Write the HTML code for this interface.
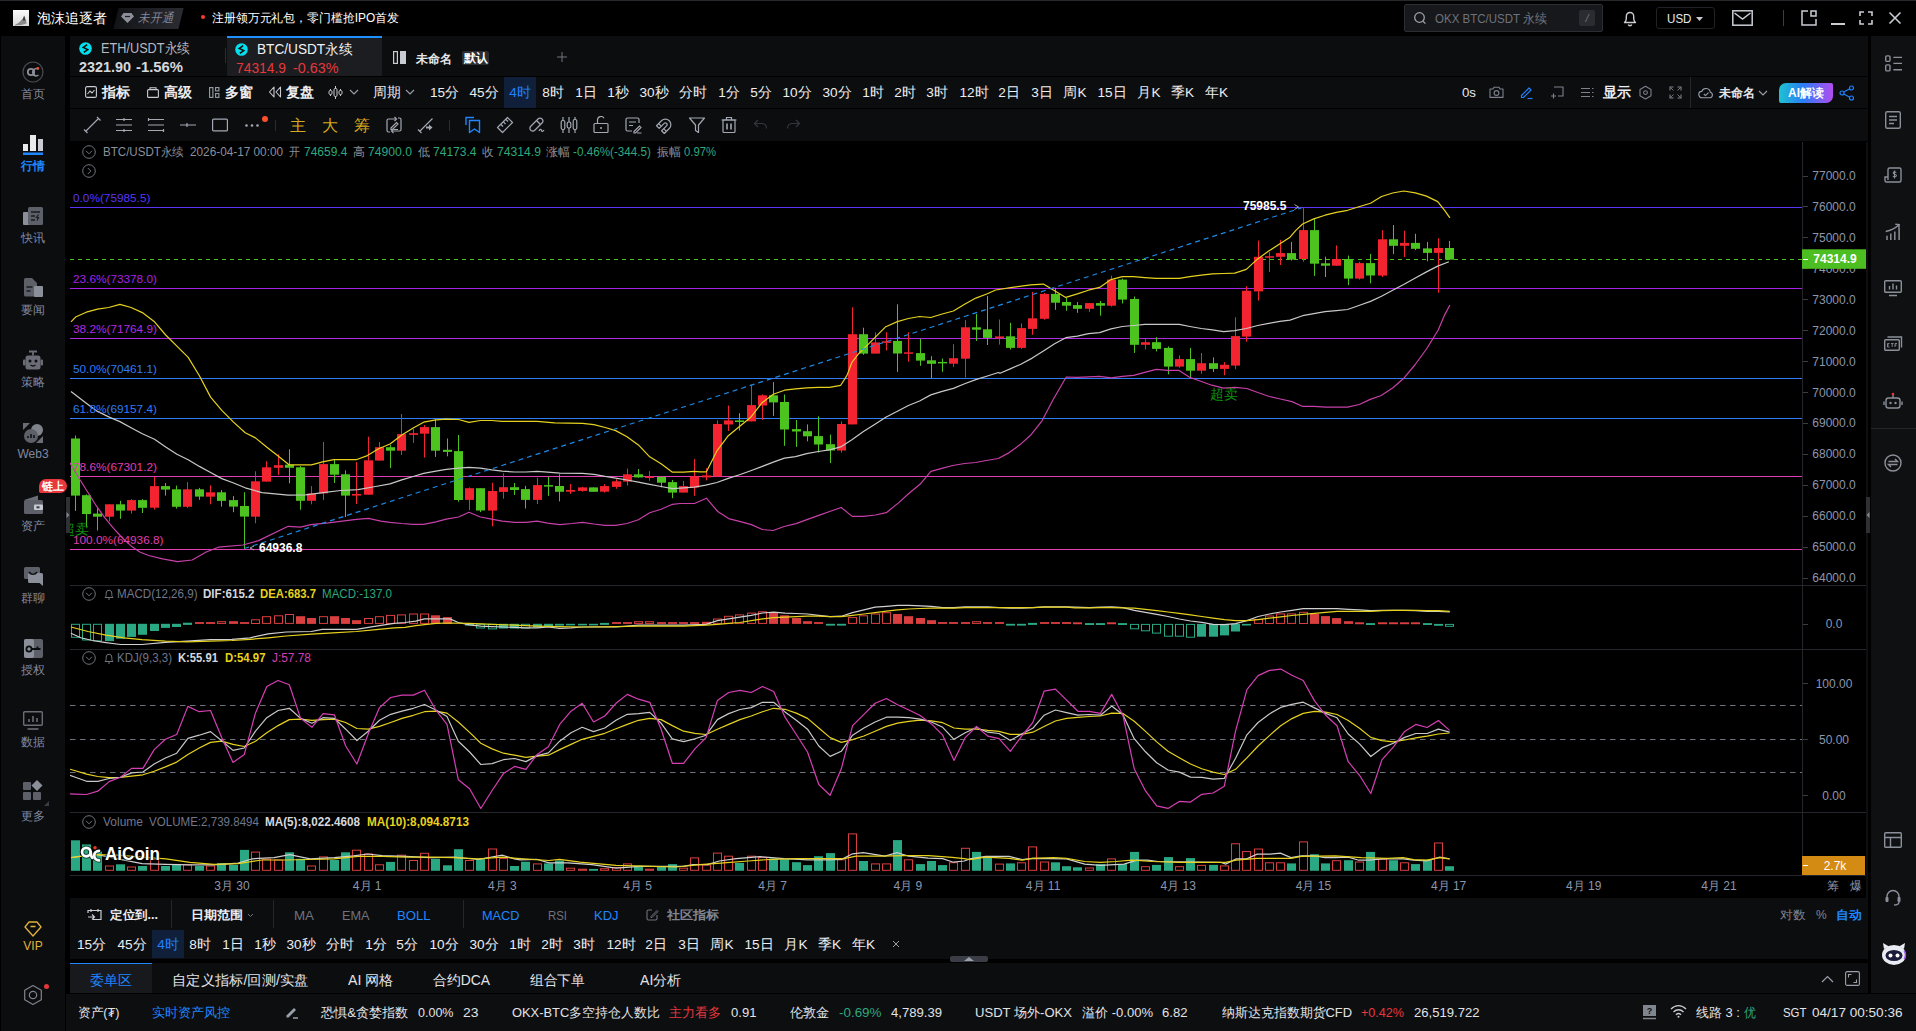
<!DOCTYPE html>
<html><head><meta charset="utf-8"><title>chart</title>
<style>
html,body{margin:0;padding:0;background:#000;}
body{width:1916px;height:1031px;position:relative;overflow:hidden;font-family:"Liberation Sans",sans-serif;}
.t{position:absolute;white-space:nowrap;display:block;}
.b{position:absolute;display:block;}
svg text{font-family:"Liberation Sans",sans-serif;}
</style></head><body>
<div class="b" style="left:0px;top:0px;width:1916px;height:36px;background:#000;"></div>
<div class="b" style="left:0px;top:0px;width:1916px;height:1px;background:#26282c;"></div>
<svg class="b" style="left:13px;top:10px" width="16" height="16" viewBox="0 0 16 16" fill="none"><defs><linearGradient id="av" x1="0" y1="0" x2="0" y2="1"><stop offset="0" stop-color="#fbfbfb"/><stop offset="1" stop-color="#d9d9d9"/></linearGradient></defs><rect width="16" height="16" fill="url(#av)"/><path d="M1 15.500c3-1.500 5-3 7-5l2.200-2.500 1-2.300.8 2.300 1 2.200.6 3.300c-3 1-7 2-12.600 2z" fill="#6f6f6f" fill-opacity="0.75"/><path d="M10.200 8l1-2.300.8 2.300.3 2.500h-2.600z" fill="#2c2c2c" fill-opacity="0.8"/></svg>
<span class="t" style="left:37px;top:9px;font-size:14px;line-height:18px;color:#fff;transform-origin:0 50%;transform:scaleX(1.000);">泡沫追逐者</span>
<div class="b" style="left:115.500px;top:7.500px;width:65px;height:21px;background:linear-gradient(90deg,#131417,#2a2b31);transform:skewX(-14deg)"></div>
<svg class="b" style="left:121px;top:12px" width="13" height="12" viewBox="0 0 13 12" fill="none"><path d="M2.5 1h8l2.5 3.5L6.5 11 0 4.5z" fill="#8b8f99"/><path d="M4 4.5h5" stroke="#1b1d21" stroke-width="1.2"/></svg>
<span class="t" style="left:138px;top:10px;font-size:12.5px;line-height:16px;color:#858a9c;transform-origin:0 50%;transform:scaleX(0.910);font-style:italic;">未开通</span>
<div class="b" style="left:201px;top:15px;width:4px;height:4px;background:#ff3b30;border-radius:50%;"></div>
<span class="t" style="left:212px;top:10px;font-size:12px;line-height:16px;color:#fff;transform-origin:0 50%;transform:scaleX(0.991);">注册领万元礼包，零门槛抢IPO首发</span>
<div class="b" style="left:1404px;top:4px;width:199px;height:28px;background:#17181b;border:1px solid #2b2d32;box-sizing:border-box;border-radius:2px;"></div>
<svg class="b" style="left:1413px;top:11px" width="14" height="14" viewBox="0 0 14 14" fill="none"><circle cx="6.5" cy="6.5" r="4.8" stroke="#9aa0aa" stroke-width="1.3"/><path d="M10 10.2l2.4 2.4" stroke="#9aa0aa" stroke-width="1.3"/></svg>
<span class="t" style="left:1435px;top:11px;font-size:12.5px;line-height:16px;color:#6e737d;transform-origin:0 50%;transform:scaleX(0.921);">OKX BTC/USDT 永续</span>
<div class="b" style="left:1579px;top:10px;width:16px;height:16px;background:#2a2c31;border-radius:2px;"></div>
<span class="t" style="left:1579px;top:11px;font-size:11px;line-height:14px;color:#6e737d;width:16px;text-align:center;font-style:italic;">/</span>
<svg class="b" style="left:1620px;top:8px" width="20" height="20" viewBox="0 0 20 20" fill="none"><path d="M4.5 14.5h11c-1.3-1-1.8-2.2-1.8-4V8.2a3.7 3.7 0 0 0-7.4 0v2.3c0 1.8-.5 3-1.8 4z" stroke="#c9ccd2" stroke-width="1.4" stroke-linejoin="round"/><path d="M8.3 16.6a1.8 1.8 0 0 0 3.4 0" stroke="#c9ccd2" stroke-width="1.4"/></svg>
<div class="b" style="left:1656px;top:7px;width:59px;height:22px;background:#000;border:1px solid #202226;box-sizing:border-box;border-radius:3px;"></div>
<span class="t" style="left:1667px;top:10.5px;font-size:12px;line-height:16px;color:#e6e8ec;transform-origin:0 50%;transform:scaleX(0.967);">USD</span>
<svg class="b" style="left:1695px;top:16px" width="10" height="6" viewBox="0 0 10 6" fill="none"><path d="M1 1h7L4.5 5z" fill="#c9ccd2"/></svg>
<svg class="b" style="left:1732px;top:10px" width="21" height="16" viewBox="0 0 21 16" fill="none"><rect x="0.8" y="0.8" width="19.4" height="14.4" stroke="#c9ccd2" stroke-width="1.5"/><path d="M2.5 3l8 6 8-6" stroke="#c9ccd2" stroke-width="1.5"/></svg>
<div class="b" style="left:1783px;top:10px;width:1px;height:16px;background:#3a3d44;"></div>
<svg class="b" style="left:1801px;top:10px" width="16" height="16" viewBox="0 0 16 16" fill="none"><path d="M7 1H1v14h14V9" stroke="#c9ccd2" stroke-width="1.5"/><rect x="10" y="1" width="5" height="5" stroke="#c9ccd2" stroke-width="1.5"/></svg>
<div class="b" style="left:1831px;top:23px;width:14px;height:1.5px;background:#c9ccd2;"></div>
<svg class="b" style="left:1859px;top:11px" width="14" height="14" viewBox="0 0 14 14" fill="none"><path d="M1 5V1h4M9 1h4v4M13 9v4H9M5 13H1V9" stroke="#c9ccd2" stroke-width="1.6"/></svg>
<svg class="b" style="left:1888px;top:11px" width="14" height="14" viewBox="0 0 14 14" fill="none"><path d="M1.5 1.5l11 11M12.5 1.5l-11 11" stroke="#c9ccd2" stroke-width="1.6"/></svg>
<div class="b" style="left:1px;top:36px;width:64px;height:995px;background:#0c0d0f;"></div>
<svg class="b" style="left:22px;top:61.3px" width="22" height="22" viewBox="0 0 22 22" fill="none"><circle cx="11" cy="11" r="10" stroke="#4a4d55" stroke-width="1.200"/><circle cx="9" cy="11" r="3.200" stroke="#8b8f99" stroke-width="1.800"/><path d="M12.500 14.500l-1.500-1.500" stroke="#8b8f99" stroke-width="1.800"/><path d="M16.500 8.500a3.500 3.500 0 1 0 0 5.500" stroke="#8b8f99" stroke-width="1.500"/><circle cx="15.800" cy="7.200" r="1.300" fill="#ff4d2e"/></svg>
<span class="t" style="left:3px;top:86.2px;font-size:11.6px;line-height:15px;color:#8088a0;width:60px;text-align:center;">首页</span>
<svg class="b" style="left:23px;top:134px" width="20" height="22" viewBox="0 0 20 22" fill="none"><rect x="0" y="10" width="5" height="7" fill="#e8eaee"/><rect x="7" y="1" width="6" height="16" fill="#e8eaee"/><rect x="15" y="5" width="5" height="12" fill="#c8cbd2"/><rect x="0" y="18.500" width="20" height="2.500" fill="#1e86ff"/></svg>
<span class="t" style="left:3px;top:158.2px;font-size:11.6px;line-height:15px;color:#1e86ff;font-weight:bold;width:60px;text-align:center;">行情</span>
<svg class="b" style="left:22px;top:206px" width="22" height="20" viewBox="0 0 22 20" fill="none"><rect x="1" y="6" width="9" height="13" rx="1" fill="#8b8f99"/><rect x="6" y="1" width="15" height="18" rx="1.500" fill="#5d6068"/><path d="M9 6h9M9 10h4M9 14h4" stroke="#1a1b1e" stroke-width="1.600"/><path d="M16.500 8.500l-2 3h2l-1.500 3" stroke="#1a1b1e" stroke-width="1.200"/></svg>
<span class="t" style="left:3px;top:230.2px;font-size:11.6px;line-height:15px;color:#8088a0;width:60px;text-align:center;">快讯</span>
<svg class="b" style="left:23px;top:277px" width="21" height="21" viewBox="0 0 21 21" fill="none"><path d="M1 2.500A1.500 1.500 0 0 1 2.500 1H9l5 5v13.500H2.500A1.500 1.500 0 0 1 1 18z" fill="#5d6068"/><rect x="11" y="9" width="9" height="11" rx="1" fill="#8b8f99"/><path d="M3.500 10h6M3.500 14h4" stroke="#1a1b1e" stroke-width="1.600"/></svg>
<span class="t" style="left:3px;top:302.2px;font-size:11.6px;line-height:15px;color:#8088a0;width:60px;text-align:center;">要闻</span>
<svg class="b" style="left:22px;top:350px" width="22" height="21" viewBox="0 0 22 21" fill="none"><path d="M7 1.500h8M11 1.500v4" stroke="#6a6d75" stroke-width="1.800"/><rect x="3.500" y="5.500" width="15" height="14" rx="2.500" fill="#6a6d75"/><rect x="1" y="9.500" width="2.500" height="6" rx="1" fill="#6a6d75"/><rect x="18.500" y="9.500" width="2.500" height="6" rx="1" fill="#6a6d75"/><circle cx="8" cy="11" r="1.500" fill="#0c0d0f"/><circle cx="14" cy="11" r="1.500" fill="#0c0d0f"/><path d="M8.500 15c1.500 1.200 3.500 1.200 5 0" stroke="#0c0d0f" stroke-width="1.300"/></svg>
<span class="t" style="left:3px;top:374.2px;font-size:11.6px;line-height:15px;color:#8088a0;width:60px;text-align:center;">策略</span>
<svg class="b" style="left:22px;top:422px" width="22" height="22" viewBox="0 0 22 22" fill="none"><path d="M1 1h7L1 8zM21 21h-7l7-7z" fill="#6a6d75"/><circle cx="15" cy="8" r="6" fill="#80838b"/><circle cx="9" cy="14" r="7" fill="#5d6068"/><path d="M6 16v-2M9 16v-4M12 16v-3" stroke="#0c0d0f" stroke-width="1.500"/></svg>
<span class="t" style="left:3px;top:445.7px;font-size:12px;line-height:16px;color:#8088a0;width:60px;text-align:center;">Web3</span>
<svg class="b" style="left:23px;top:494px" width="21" height="21" viewBox="0 0 21 21" fill="none"><path d="M1 6l14-4.500V6" fill="#6a6d75"/><rect x="1" y="6" width="19" height="14" rx="1.500" fill="#5d6068"/><rect x="11" y="10.500" width="9" height="5.500" rx="1" fill="#c8cbd2"/><rect x="13.500" y="12.300" width="3" height="2" fill="#3a3d44"/></svg>
<span class="t" style="left:3px;top:518.2px;font-size:11.6px;line-height:15px;color:#8088a0;width:60px;text-align:center;">资产</span>
<div class="b" style="left:39px;top:479px;width:28px;height:14px;background:#e8383d;border-radius:8px 8px 8px 2px;"></div>
<span class="t" style="left:39px;top:479px;font-size:10.5px;line-height:14px;color:#fff;font-weight:bold;width:28px;text-align:center;">链上</span>
<svg class="b" style="left:23px;top:566px" width="21" height="21" viewBox="0 0 21 21" fill="none"><path d="M1 2.500A1.500 1.500 0 0 1 2.500 1h13A1.500 1.500 0 0 1 17 2.500v9a1.500 1.500 0 0 1-1.500 1.500H2.500A1.500 1.500 0 0 1 1 11.500z" fill="#5d6068"/><path d="M5 8.500A1.500 1.500 0 0 1 6.500 7h12A1.500 1.500 0 0 1 20 8.500V20l-3.500-3h-10A1.500 1.500 0 0 1 5 15.500z" fill="#8b8f99"/><path d="M6 6c2 3 6 3 8 0" stroke="#0c0d0f" stroke-width="1.500"/></svg>
<span class="t" style="left:3px;top:590.2px;font-size:11.6px;line-height:15px;color:#8088a0;width:60px;text-align:center;">群聊</span>
<svg class="b" style="left:23px;top:638px" width="21" height="21" viewBox="0 0 21 21" fill="none"><rect x="1" y="1" width="19" height="19" rx="2" fill="#5d6068"/><rect x="1" y="1" width="10" height="19" rx="2" fill="#8b8f99"/><circle cx="6" cy="11" r="2.600" stroke="#0c0d0f" stroke-width="1.800"/><path d="M8.500 11h9M14.500 11v-2.500" stroke="#0c0d0f" stroke-width="1.800"/></svg>
<span class="t" style="left:3px;top:662.2px;font-size:11.6px;line-height:15px;color:#8088a0;width:60px;text-align:center;">授权</span>
<svg class="b" style="left:22px;top:710px" width="22" height="21" viewBox="0 0 22 21" fill="none"><rect x="1.700" y="1.700" width="18.600" height="13.600" rx="1" stroke="#6a6d75" stroke-width="1.400"/><path d="M7 12V9M11 12V6M15 12V8" stroke="#6a6d75" stroke-width="1.600"/><path d="M5.500 19h11" stroke="#6a6d75" stroke-width="1.600"/></svg>
<span class="t" style="left:3px;top:734.2px;font-size:11.6px;line-height:15px;color:#8088a0;width:60px;text-align:center;">数据</span>
<svg class="b" style="left:22px;top:780px" width="28" height="26" viewBox="0 0 28 26" fill="none"><rect x="1" y="2" width="8" height="8" rx="1" fill="#5d6068"/><rect x="1" y="12" width="8" height="8" rx="1" fill="#5d6068"/><rect x="11" y="12" width="8" height="8" rx="1" fill="#5d6068"/><path d="M15 0l5.500 5.500L15 11 9.500 5.500z" fill="#8b8f99"/><path d="M27 21v5h-5z" fill="#3a3d44"/></svg>
<span class="t" style="left:3px;top:808.2px;font-size:11.6px;line-height:15px;color:#8088a0;width:60px;text-align:center;">更多</span>
<svg class="b" style="left:24px;top:921px" width="18" height="16" viewBox="0 0 18 16" fill="none"><path d="M5 1h8l4 5-8 9-8-9z" stroke="#e0b23c" stroke-width="1.300" stroke-linejoin="round"/><path d="M6.500 5.500h5" stroke="#e0b23c" stroke-width="1.500"/></svg>
<span class="t" style="left:3px;top:937.7px;font-size:12px;line-height:16px;color:#e0b23c;width:60px;text-align:center;">VIP</span>
<svg class="b" style="left:22.8px;top:983.9px" width="20" height="22" viewBox="0 0 20 22" fill="none"><path d="M10 1.500l8.300 4.750v9.500L10 20.500l-8.300-4.750v-9.500z" stroke="#80838d" stroke-width="1.200" stroke-linejoin="round"/><circle cx="10" cy="11" r="3.700" stroke="#80838d" stroke-width="1.200"/></svg>
<div class="b" style="left:44px;top:984px;width:5.2px;height:5.2px;background:#e0383d;border-radius:50%;"></div>
<div class="b" style="left:66px;top:497px;width:4px;height:36px;background:#2e3036;"></div>
<svg class="b" style="left:66px;top:511px" width="4" height="8" viewBox="0 0 4 8" fill="none"><path d="M0.500 1l3 3-3 3z" fill="#80838b"/></svg>
<div class="b" style="left:70px;top:36px;width:1798px;height:40px;background:#0c0d0f;"></div>
<svg class="b" style="left:78.5px;top:41.5px" width="13" height="13" viewBox="0 0 13 13" fill="none"><circle cx="6.5" cy="6.5" r="6.3" fill="#00e0ee"/><path d="M8.2 2.6L4.3 5.4l4.4 2.2-3.9 2.8" stroke="#1a0a0a" stroke-width="1.6" fill="none"/></svg>
<span class="t" style="left:101px;top:39px;font-size:14px;line-height:18px;color:#b5b9c1;transform-origin:0 50%;transform:scaleX(0.908);">ETH/USDT永续</span>
<span class="t" style="left:79px;top:58px;font-size:14px;line-height:18px;color:#d5d8dd;font-weight:bold;transform-origin:0 50%;transform:scaleX(1.027);">2321.90</span>
<span class="t" style="left:136px;top:58px;font-size:14px;line-height:18px;color:#d5d8dd;font-weight:bold;transform-origin:0 50%;transform:scaleX(1.060);">-1.56%</span>
<div class="b" style="left:225px;top:48px;width:1px;height:15px;background:#2a2c31;"></div>
<div class="b" style="left:227px;top:36px;width:155px;height:40px;background:#1b1d21;"></div>
<div class="b" style="left:227px;top:36px;width:155px;height:2px;background:#1e90ff;"></div>
<svg class="b" style="left:234.5px;top:42.5px" width="13" height="13" viewBox="0 0 13 13" fill="none"><circle cx="6.5" cy="6.5" r="6.3" fill="#00e0ee"/><path d="M8.2 2.6L4.3 5.4l4.4 2.2-3.9 2.8" stroke="#1a0a0a" stroke-width="1.6" fill="none"/></svg>
<span class="t" style="left:257px;top:40px;font-size:14px;line-height:18px;color:#f2f3f5;transform-origin:0 50%;transform:scaleX(0.974);">BTC/USDT永续</span>
<span class="t" style="left:236px;top:58.7px;font-size:14px;line-height:18px;color:#e5383b;transform-origin:0 50%;transform:scaleX(0.988);">74314.9</span>
<span class="t" style="left:293px;top:58.7px;font-size:14px;line-height:18px;color:#e5383b;transform-origin:0 50%;transform:scaleX(1.026);">-0.63%</span>
<svg class="b" style="left:393px;top:51px" width="13" height="13" viewBox="0 0 13 13" fill="none"><rect x="0.6" y="0.6" width="3.8" height="11.8" stroke="#c9ccd2" stroke-width="1.2"/><rect x="7" y="0" width="6" height="13" fill="#c9ccd2"/></svg>
<span class="t" style="left:416px;top:50.5px;font-size:12px;line-height:16px;color:#e6e8ec;font-weight:bold;transform-origin:0 50%;transform:scaleX(1.000);">未命名</span>
<div class="b" style="left:462px;top:51px;width:27px;height:14px;background:#2b2d32;border-radius:2px;"></div>
<span class="t" style="left:462px;top:51px;font-size:11.5px;line-height:15px;color:#fff;font-weight:bold;width:27px;text-align:center;">默认</span>
<svg class="b" style="left:557px;top:52px" width="10" height="10" viewBox="0 0 10 10" fill="none"><path d="M5 0v10M0 5h10" stroke="#70747d" stroke-width="1"/></svg>
<div class="b" style="left:70px;top:77px;width:1798px;height:31px;background:#0c0d0f;"></div>
<svg class="b" style="left:85px;top:86px" width="12" height="12" viewBox="0 0 12 12" fill="none"><rect x="0.6" y="0.6" width="10.8" height="10.8" rx="1.5" stroke="#c9ccd2" stroke-width="1.1"/><path d="M2.5 8l2.5-3 2 2 2.5-3" stroke="#c9ccd2" stroke-width="1.1"/></svg>
<span class="t" style="left:102px;top:83px;font-size:14px;line-height:18px;color:#eceef1;font-weight:bold;transform-origin:0 50%;transform:scaleX(1.000);">指标</span>
<svg class="b" style="left:147px;top:87px" width="12" height="11" viewBox="0 0 12 11" fill="none"><rect x="0.6" y="2.6" width="10.8" height="7.8" rx="1" stroke="#c9ccd2" stroke-width="1.1"/><path d="M3 2.6V.8h6v1.8" stroke="#c9ccd2" stroke-width="1.1"/></svg>
<span class="t" style="left:164px;top:83px;font-size:14px;line-height:18px;color:#eceef1;font-weight:bold;transform-origin:0 50%;transform:scaleX(1.000);">高级</span>
<svg class="b" style="left:209px;top:87px" width="11" height="11" viewBox="0 0 11 11" fill="none"><rect x="0.6" y="0.6" width="3.3" height="9.8" stroke="#9aa0aa" stroke-width="1.1"/><rect x="6.6" y="0.6" width="3.3" height="3.3" stroke="#9aa0aa" stroke-width="1.1"/><rect x="6.6" y="6.6" width="3.3" height="3.8" stroke="#9aa0aa" stroke-width="1.1"/></svg>
<span class="t" style="left:225px;top:83px;font-size:14px;line-height:18px;color:#eceef1;font-weight:bold;transform-origin:0 50%;transform:scaleX(1.000);">多窗</span>
<svg class="b" style="left:268px;top:86px" width="14" height="12" viewBox="0 0 14 12" fill="none"><path d="M6 1L1.5 6 6 11zM12.5 1L8 6l4.5 5z" stroke="#c9ccd2" stroke-width="1.1" stroke-linejoin="round"/></svg>
<span class="t" style="left:286px;top:83px;font-size:14px;line-height:18px;color:#eceef1;font-weight:bold;transform-origin:0 50%;transform:scaleX(1.000);">复盘</span>
<svg class="b" style="left:328px;top:85px" width="15" height="15" viewBox="0 0 15 15" fill="none"><path d="M2.5 4v7M7.5 1v13M12.5 4v7" stroke="#c9ccd2" stroke-width="1"/><rect x="1" y="5.5" width="3" height="4" rx="1.2" stroke="#c9ccd2" stroke-width="1" fill="#0c0d0f"/><rect x="6" y="3.5" width="3" height="8" rx="1.2" stroke="#c9ccd2" stroke-width="1" fill="#0c0d0f"/><rect x="11" y="5.5" width="3" height="4" rx="1.2" stroke="#c9ccd2" stroke-width="1" fill="#0c0d0f"/></svg>
<svg class="b" style="left:349px;top:89px" width="10" height="6" viewBox="0 0 10 6" fill="none"><path d="M1 1l4 4 4-4" stroke="#9aa0aa" stroke-width="1.1"/></svg>
<span class="t" style="left:373px;top:83px;font-size:14px;line-height:18px;color:#eceef1;transform-origin:0 50%;transform:scaleX(0.982);">周期</span>
<svg class="b" style="left:405px;top:89px" width="10" height="6" viewBox="0 0 10 6" fill="none"><path d="M1 1l4 4 4-4" stroke="#9aa0aa" stroke-width="1.1"/></svg>
<div class="b" style="left:504px;top:77px;width:32px;height:31px;background:#10203a;"></div>
<span class="t" style="left:428px;top:83.8px;font-size:13.6px;line-height:18px;color:#eceef1;width:33px;text-align:center;">15分</span>
<span class="t" style="left:467px;top:83.8px;font-size:13.6px;line-height:18px;color:#eceef1;width:34px;text-align:center;">45分</span>
<span class="t" style="left:507px;top:83.8px;font-size:13.6px;line-height:18px;color:#2080ff;width:26px;text-align:center;">4时</span>
<span class="t" style="left:540px;top:83.8px;font-size:13.6px;line-height:18px;color:#eceef1;width:26px;text-align:center;">8时</span>
<span class="t" style="left:573px;top:83.8px;font-size:13.6px;line-height:18px;color:#eceef1;width:26px;text-align:center;">1日</span>
<span class="t" style="left:605px;top:83.8px;font-size:13.6px;line-height:18px;color:#eceef1;width:26px;text-align:center;">1秒</span>
<span class="t" style="left:637px;top:83.8px;font-size:13.6px;line-height:18px;color:#eceef1;width:34px;text-align:center;">30秒</span>
<span class="t" style="left:677px;top:83.8px;font-size:13.6px;line-height:18px;color:#eceef1;width:32px;text-align:center;">分时</span>
<span class="t" style="left:716px;top:83.8px;font-size:13.6px;line-height:18px;color:#eceef1;width:26px;text-align:center;">1分</span>
<span class="t" style="left:748px;top:83.8px;font-size:13.6px;line-height:18px;color:#eceef1;width:26px;text-align:center;">5分</span>
<span class="t" style="left:780px;top:83.8px;font-size:13.6px;line-height:18px;color:#eceef1;width:34px;text-align:center;">10分</span>
<span class="t" style="left:820px;top:83.8px;font-size:13.6px;line-height:18px;color:#eceef1;width:34px;text-align:center;">30分</span>
<span class="t" style="left:860px;top:83.8px;font-size:13.6px;line-height:18px;color:#eceef1;width:26px;text-align:center;">1时</span>
<span class="t" style="left:892px;top:83.8px;font-size:13.6px;line-height:18px;color:#eceef1;width:26px;text-align:center;">2时</span>
<span class="t" style="left:924px;top:83.8px;font-size:13.6px;line-height:18px;color:#eceef1;width:26px;text-align:center;">3时</span>
<span class="t" style="left:957px;top:83.8px;font-size:13.6px;line-height:18px;color:#eceef1;width:34px;text-align:center;">12时</span>
<span class="t" style="left:996px;top:83.8px;font-size:13.6px;line-height:18px;color:#eceef1;width:26px;text-align:center;">2日</span>
<span class="t" style="left:1029px;top:83.8px;font-size:13.6px;line-height:18px;color:#eceef1;width:26px;text-align:center;">3日</span>
<span class="t" style="left:1061px;top:83.8px;font-size:13.6px;line-height:18px;color:#eceef1;width:28px;text-align:center;">周K</span>
<span class="t" style="left:1095px;top:83.8px;font-size:13.6px;line-height:18px;color:#eceef1;width:34px;text-align:center;">15日</span>
<span class="t" style="left:1135px;top:83.8px;font-size:13.6px;line-height:18px;color:#eceef1;width:28px;text-align:center;">月K</span>
<span class="t" style="left:1168px;top:83.8px;font-size:13.6px;line-height:18px;color:#eceef1;width:29px;text-align:center;">季K</span>
<span class="t" style="left:1202px;top:83.8px;font-size:13.6px;line-height:18px;color:#eceef1;width:29px;text-align:center;">年K</span>
<span class="t" style="left:1462px;top:83.5px;font-size:13px;line-height:17px;color:#e6e8ec;transform-origin:0 50%;transform:scaleX(1.019);">0s</span>
<svg class="b" style="left:1489px;top:86px" width="15" height="12" viewBox="0 0 15 12" fill="none"><path d="M1 3h3l1-1.8h5L11 3h3v8.4H1z" stroke="#7c818b" stroke-width="1.1" stroke-linejoin="round"/><circle cx="7.5" cy="7" r="2.4" stroke="#7c818b" stroke-width="1.1"/></svg>
<svg class="b" style="left:1519px;top:85px" width="15" height="15" viewBox="0 0 15 15" fill="none"><path d="M2.5 10.5L10 3l2 2-7.500 7.500H2.500z" stroke="#2080ff" stroke-width="1.2" stroke-linejoin="round"/><path d="M8.500 13.500h5" stroke="#2080ff" stroke-width="1.2"/></svg>
<svg class="b" style="left:1550px;top:86px" width="14" height="13" viewBox="0 0 14 13" fill="none"><path d="M4 1h9v9H8" stroke="#7c818b" stroke-width="1.1"/><path d="M1 10h5M3.5 7.500v5" stroke="#7c818b" stroke-width="1.1"/></svg>
<svg class="b" style="left:1581px;top:87px" width="13" height="11" viewBox="0 0 13 11" fill="none"><path d="M0 1.500h9M0 5.500h9M0 9.500h9" stroke="#7c818b" stroke-width="1.1"/><path d="M11 1.500h1.500M11 5.500h1.500M11 9.500h1.500" stroke="#7c818b" stroke-width="1.1"/></svg>
<span class="t" style="left:1603px;top:83px;font-size:14px;line-height:18px;color:#eceef1;font-weight:bold;transform-origin:0 50%;transform:scaleX(1.000);">显示</span>
<svg class="b" style="left:1638px;top:85px" width="15" height="15" viewBox="0 0 15 15" fill="none"><path d="M7.500 1.200l5.500 3.200v6.400l-5.500 3.200L2 10.800V4.400z" stroke="#7c818b" stroke-width="1.1" stroke-linejoin="round"/><circle cx="7.500" cy="7.600" r="1.900" stroke="#7c818b" stroke-width="1.1"/></svg>
<svg class="b" style="left:1669px;top:86px" width="13" height="13" viewBox="0 0 13 13" fill="none"><path d="M1 4.500V1h3.500M8.500 1H12v3.500M12 8.500V12H8.500M4.500 12H1V8.500" stroke="#7c818b" stroke-width="1.1"/><path d="M1.500 1.500l3 3M11.500 1.500l-3 3M11.500 11.500l-3-3M1.500 11.500l3-3" stroke="#7c818b" stroke-width="0.9"/></svg>
<div class="b" style="left:1690px;top:77px;width:1px;height:31px;background:#24262b;"></div>
<svg class="b" style="left:1698px;top:87px" width="16" height="12" viewBox="0 0 16 12" fill="none"><path d="M4.200 10.800a3.200 3.200 0 0 1-.4-6.400 4.400 4.400 0 0 1 8.500.9 2.800 2.800 0 0 1-.5 5.500z" stroke="#9aa0aa" stroke-width="1.100"/><path d="M5.800 7l1.700 1.600 3-3" stroke="#9aa0aa" stroke-width="1.100"/></svg>
<span class="t" style="left:1719px;top:85px;font-size:12px;line-height:16px;color:#e6e8ec;font-weight:bold;transform-origin:0 50%;transform:scaleX(1.000);">未命名</span>
<svg class="b" style="left:1758px;top:90px" width="10" height="6" viewBox="0 0 10 6" fill="none"><path d="M1 1l4 4 4-4" stroke="#9aa0aa" stroke-width="1.100"/></svg>
<div class="b" style="left:1779px;top:83px;width:54px;height:20px;background:linear-gradient(90deg,#1ec3d2 0%,#2a7cf6 45%,#b34df0 100%);border-radius:7px 2px 7px 2px"></div>
<span class="t" style="left:1779px;top:85px;font-size:12px;line-height:16px;color:#fff;font-weight:bold;width:54px;text-align:center;">AI解读</span>
<svg class="b" style="left:1839px;top:85px" width="16" height="16" viewBox="0 0 16 16" fill="none"><circle cx="3" cy="8" r="2" stroke="#2080ff" stroke-width="1.200"/><circle cx="12.500" cy="3" r="2" stroke="#2080ff" stroke-width="1.200"/><circle cx="12.500" cy="13" r="2" stroke="#2080ff" stroke-width="1.200"/><path d="M4.800 7l6-3.200M4.800 9l6 3.200" stroke="#2080ff" stroke-width="1.200"/></svg>
<div class="b" style="left:70px;top:109px;width:1798px;height:32px;background:#0c0d0f;"></div>
<svg class="b" style="left:83px;top:116px" width="18" height="18" viewBox="0 0 18 18" fill="none"><path d="M2.500 15.500L15.500 2.500M1 13.500l3.500 3.500M14 1l3.500 3.500" stroke="#a3a8b3" stroke-width="1.2"/></svg>
<svg class="b" style="left:115px;top:116px" width="18" height="18" viewBox="0 0 18 18" fill="none"><path d="M1 3.500h16M1 9h16M1 14.500h16" stroke="#a3a8b3" stroke-width="1.2"/><path d="M9 2v3M9 13v3" stroke="#a3a8b3" stroke-width="1.2"/></svg>
<svg class="b" style="left:147px;top:116px" width="18" height="18" viewBox="0 0 18 18" fill="none"><path d="M1 3.500h16M1 9h16M1 14.500h16" stroke="#a3a8b3" stroke-width="1.2"/><path d="M1.500 2v3M16.500 13v3" stroke="#a3a8b3" stroke-width="1.2"/></svg>
<svg class="b" style="left:179px;top:116px" width="18" height="18" viewBox="0 0 18 18" fill="none"><path d="M1 9h16M8 7v4" stroke="#a3a8b3" stroke-width="1.2"/></svg>
<svg class="b" style="left:211px;top:116px" width="18" height="18" viewBox="0 0 18 18" fill="none"><rect x="1.600" y="3.100" width="14.800" height="11.800" rx="1" stroke="#a3a8b3" stroke-width="1.2"/></svg>
<svg class="b" style="left:243px;top:116px" width="18" height="18" viewBox="0 0 18 18" fill="none"><circle cx="3.500" cy="9.500" r="1.300" fill="#a3a8b3"/><circle cx="9" cy="9.500" r="1.300" fill="#a3a8b3"/><circle cx="14.500" cy="9.500" r="1.300" fill="#a3a8b3"/></svg>
<div class="b" style="left:262px;top:116px;width:6px;height:6px;background:#ff4d2e;border-radius:50%;"></div>
<div class="b" style="left:275px;top:120px;width:1px;height:11px;background:#2a2c31;"></div>
<span class="t" style="left:289px;top:114.5px;font-size:16px;line-height:21px;color:#d8a81e;width:18px;text-align:center;">主</span>
<span class="t" style="left:321px;top:114.5px;font-size:16px;line-height:21px;color:#d8a81e;width:18px;text-align:center;">大</span>
<span class="t" style="left:353px;top:114.5px;font-size:16px;line-height:21px;color:#d8a81e;width:18px;text-align:center;">筹</span>
<svg class="b" style="left:385px;top:116px" width="18" height="18" viewBox="0 0 18 18" fill="none"><path d="M5 16H3.500A1.500 1.500 0 0 1 2 14.500v-10A1.500 1.500 0 0 1 3.500 3H11M13 2h1.500A1.500 1.500 0 0 1 16 3.500v10a1.500 1.500 0 0 1-1.500 1.500H7" stroke="#a3a8b3" stroke-width="1.2"/><path d="M9.500 1l2 2-2 2M8.500 17l-2-2 2-2" stroke="#a3a8b3" stroke-width="1.2"/><path d="M6 12l5.500-5.500 1.500 1.500L7.500 13.500H6zM9 13.500h4" stroke="#a3a8b3" stroke-width="1.2"/></svg>
<svg class="b" style="left:417px;top:116px" width="18" height="18" viewBox="0 0 18 18" fill="none"><path d="M2.500 15.500L15.500 2.500M1 13.500l3.500 3.500" stroke="#a3a8b3" stroke-width="1.2"/><path d="M9 10.500h3v-2l3.500 3-3.500 3v-2H9z" fill="#a3a8b3"/></svg>
<div class="b" style="left:449px;top:120px;width:1px;height:11px;background:#2a2c31;"></div>
<svg class="b" style="left:464px;top:116px" width="18" height="18" viewBox="0 0 18 18" fill="none"><path d="M5.500 4.500h10v12l-5-3.500-5 3.500z" stroke="#1e86ff" stroke-width="1.400" stroke-linejoin="round"/><path d="M2 9V1.500h8" stroke="#1e86ff" stroke-width="1.400"/></svg>
<svg class="b" style="left:496px;top:116px" width="18" height="18" viewBox="0 0 18 18" fill="none"><path d="M1.500 11.500L11.500 1.500l5 5L6.500 16.500z" stroke="#a3a8b3" stroke-width="1.2" stroke-linejoin="round"/><path d="M5 8.500l2 2M7.500 6l2 2M10 3.500l2 2" stroke="#a3a8b3" stroke-width="1.2"/></svg>
<svg class="b" style="left:528px;top:116px" width="18" height="18" viewBox="0 0 18 18" fill="none"><path d="M3 14.500c-1.500-1.500-1.500-3 0-4.500l7-7c1.200-1.200 2.800-1.200 4 0s1.200 2.800 0 4l-7 7c-1.500 1.500-2.500 1.500-4 .5z" stroke="#a3a8b3" stroke-width="1.2"/><path d="M8.500 4.500l4 4" stroke="#a3a8b3" stroke-width="1.2"/><path d="M11 15c1-2 2-2 2.500-.5s1.500 1 2.500-.5" stroke="#a3a8b3" stroke-width="1.2"/></svg>
<svg class="b" style="left:560px;top:116px" width="18" height="18" viewBox="0 0 18 18" fill="none"><path d="M3 1v16M9 1v16M15 1v16" stroke="#a3a8b3" stroke-width="1.2"/><rect x="1.200" y="4.500" width="3.600" height="9" rx="1.500" fill="#0c0d0f" stroke="#a3a8b3" stroke-width="1.2"/><rect x="7.200" y="6" width="3.600" height="6" rx="1.500" fill="#0c0d0f" stroke="#a3a8b3" stroke-width="1.2"/><rect x="13.200" y="3.500" width="3.600" height="10" rx="1.500" fill="#0c0d0f" stroke="#a3a8b3" stroke-width="1.2"/></svg>
<svg class="b" style="left:592px;top:116px" width="18" height="18" viewBox="0 0 18 18" fill="none"><rect x="2" y="7.500" width="14" height="9" rx="1" stroke="#a3a8b3" stroke-width="1.2"/><path d="M5.500 7.500V4a3.500 3.500 0 0 1 6.500-1.800" stroke="#a3a8b3" stroke-width="1.2"/><circle cx="9" cy="12" r="1" fill="#a3a8b3"/></svg>
<svg class="b" style="left:624px;top:116px" width="18" height="18" viewBox="0 0 18 18" fill="none"><path d="M15 7V3.500A1.500 1.500 0 0 0 13.500 2h-10A1.500 1.500 0 0 0 2 3.500v10A1.500 1.500 0 0 0 3.500 15H8" stroke="#a3a8b3" stroke-width="1.2"/><path d="M5 6h7M5 9.500h4" stroke="#a3a8b3" stroke-width="1.2"/><path d="M10 15.500l5.500-5.500 1.500 1.500-5.500 5.500H10zM13 17h4.500" stroke="#a3a8b3" stroke-width="1.2"/></svg>
<svg class="b" style="left:656px;top:116px" width="18" height="18" viewBox="0 0 18 18" fill="none"><g transform="rotate(225 9 9)"><path d="M3.500 2.500v7a5.500 5.500 0 0 0 11 0v-7h-3.800v7a1.700 1.700 0 0 1-3.400 0v-7z" stroke="#a3a8b3" stroke-width="1.2" stroke-linejoin="round"/><path d="M3.500 5.500h3.800M10.700 5.500h3.800" stroke="#a3a8b3" stroke-width="1.2"/></g></svg>
<svg class="b" style="left:688px;top:116px" width="18" height="18" viewBox="0 0 18 18" fill="none"><path d="M1.500 2h15l-6 7v7.500l-3-2V9z" stroke="#a3a8b3" stroke-width="1.2" stroke-linejoin="round"/></svg>
<svg class="b" style="left:720px;top:116px" width="18" height="18" viewBox="0 0 18 18" fill="none"><path d="M1.500 4h15M6.500 4V1.500h5V4" stroke="#a3a8b3" stroke-width="1.2"/><path d="M3 4h12v11.500a1 1 0 0 1-1 1H4a1 1 0 0 1-1-1z" stroke="#a3a8b3" stroke-width="1.2"/><path d="M7 7.500v6M11 7.500v6" stroke="#a3a8b3" stroke-width="1.600"/></svg>
<svg class="b" style="left:752px;top:116px" width="18" height="18" viewBox="0 0 18 18" fill="none"><path d="M6 4L2.500 7.500 6 11M2.500 7.500h7c3 0 5 2 5 5" stroke="#33363c" stroke-width="1.200"/></svg>
<svg class="b" style="left:784px;top:116px" width="18" height="18" viewBox="0 0 18 18" fill="none"><path d="M12 4l3.500 3.500L12 11M15.500 7.500h-7c-3 0-5 2-5 5" stroke="#33363c" stroke-width="1.200"/></svg>
<svg width="1797" height="755" viewBox="0 0 1797 755" style="position:absolute;left:70px;top:142px" shape-rendering="auto">
<rect x="0" y="0" width="1797" height="755" fill="#000"/>
<defs><clipPath id="cp"><rect x="0" y="0" width="1732" height="755"/></clipPath></defs>
<line x1="0" x2="1797" y1="443.5" y2="443.5" stroke="#24262b" stroke-width="1"/>
<line x1="0" x2="1797" y1="507.5" y2="507.5" stroke="#24262b" stroke-width="1"/>
<line x1="0" x2="1797" y1="670.5" y2="670.5" stroke="#24262b" stroke-width="1"/>
<line x1="0" x2="1797" y1="733.5" y2="733.5" stroke="#24262b" stroke-width="1"/>
<line x1="1732.5" x2="1732.5" y1="0" y2="733" stroke="#24262b" stroke-width="1"/>
<g clip-path="url(#cp)">
<line x1="0" x2="1732" y1="65.5" y2="65.5" stroke="#5a35f5" stroke-width="1"/>
<line x1="0" x2="1732" y1="146.5" y2="146.5" stroke="#a621e6" stroke-width="1"/>
<line x1="0" x2="1732" y1="196.5" y2="196.5" stroke="#b02ae0" stroke-width="1"/>
<line x1="0" x2="1732" y1="236.5" y2="236.5" stroke="#2f7cf6" stroke-width="1"/>
<line x1="0" x2="1732" y1="276.5" y2="276.5" stroke="#2f7cf6" stroke-width="1"/>
<line x1="0" x2="1732" y1="334.5" y2="334.5" stroke="#e03cb4" stroke-width="1"/>
<line x1="0" x2="1732" y1="407.5" y2="407.5" stroke="#e03cb4" stroke-width="1"/>
<line x1="0" x2="1732" y1="117.5" y2="117.5" stroke="#4dc31f" stroke-width="1" stroke-dasharray="4 4"/>
<rect x="5" y="293.5" width="1" height="75.4" fill="#4dc31f"/>
<rect x="1" y="296.5" width="9" height="57.1" fill="#4dc31f"/>
<rect x="16" y="352.4" width="1" height="32.3" fill="#4dc31f"/>
<rect x="12" y="353.2" width="9" height="18.9" fill="#4dc31f"/>
<rect x="27" y="366.3" width="1" height="22.2" fill="#4dc31f"/>
<rect x="23" y="371.6" width="9" height="3.1" fill="#4dc31f"/>
<rect x="39" y="362.3" width="1" height="17.1" fill="#f3242f"/>
<rect x="35" y="362.3" width="9" height="12.4" fill="#f3242f"/>
<rect x="50" y="358.8" width="1" height="18.0" fill="#4dc31f"/>
<rect x="46" y="362.3" width="9" height="6.3" fill="#4dc31f"/>
<rect x="61" y="357.1" width="1" height="14.5" fill="#f3242f"/>
<rect x="57" y="358.1" width="9" height="10.5" fill="#f3242f"/>
<rect x="72" y="357.2" width="1" height="13.8" fill="#4dc31f"/>
<rect x="68" y="358.1" width="9" height="7.7" fill="#4dc31f"/>
<rect x="84" y="334.9" width="1" height="32.6" fill="#f3242f"/>
<rect x="80" y="344.1" width="9" height="21.6" fill="#f3242f"/>
<rect x="95" y="341.0" width="1" height="12.6" fill="#4dc31f"/>
<rect x="91" y="344.1" width="9" height="3.5" fill="#4dc31f"/>
<rect x="106" y="343.6" width="1" height="23.0" fill="#4dc31f"/>
<rect x="102" y="347.3" width="9" height="17.5" fill="#4dc31f"/>
<rect x="117" y="340.1" width="1" height="25.8" fill="#f3242f"/>
<rect x="113" y="347.3" width="9" height="17.5" fill="#f3242f"/>
<rect x="129" y="345.9" width="1" height="11.9" fill="#4dc31f"/>
<rect x="125" y="347.3" width="9" height="7.3" fill="#4dc31f"/>
<rect x="140" y="343.3" width="1" height="19.0" fill="#f3242f"/>
<rect x="136" y="350.3" width="9" height="4.4" fill="#f3242f"/>
<rect x="151" y="348.0" width="1" height="16.6" fill="#4dc31f"/>
<rect x="147" y="350.3" width="9" height="8.6" fill="#4dc31f"/>
<rect x="163" y="354.1" width="1" height="16.1" fill="#4dc31f"/>
<rect x="159" y="358.1" width="9" height="6.5" fill="#4dc31f"/>
<rect x="174" y="350.3" width="1" height="56.7" fill="#4dc31f"/>
<rect x="170" y="364.0" width="9" height="10.6" fill="#4dc31f"/>
<rect x="185" y="329.3" width="1" height="51.9" fill="#f3242f"/>
<rect x="181" y="339.3" width="9" height="35.4" fill="#f3242f"/>
<rect x="196" y="319.2" width="1" height="20.4" fill="#f3242f"/>
<rect x="192" y="325.3" width="9" height="14.3" fill="#f3242f"/>
<rect x="208" y="312.2" width="1" height="20.9" fill="#f3242f"/>
<rect x="204" y="323.2" width="9" height="2.6" fill="#f3242f"/>
<rect x="219" y="307.3" width="1" height="34.0" fill="#4dc31f"/>
<rect x="215" y="322.7" width="9" height="3.1" fill="#4dc31f"/>
<rect x="230" y="324.1" width="1" height="43.6" fill="#4dc31f"/>
<rect x="226" y="325.3" width="9" height="33.5" fill="#4dc31f"/>
<rect x="241" y="344.1" width="1" height="18.2" fill="#f3242f"/>
<rect x="237" y="351.5" width="9" height="7.3" fill="#f3242f"/>
<rect x="253" y="300.0" width="1" height="58.1" fill="#f3242f"/>
<rect x="249" y="322.1" width="9" height="29.3" fill="#f3242f"/>
<rect x="264" y="317.4" width="1" height="23.6" fill="#4dc31f"/>
<rect x="260" y="322.1" width="9" height="10.6" fill="#4dc31f"/>
<rect x="275" y="328.3" width="1" height="46.8" fill="#4dc31f"/>
<rect x="271" y="332.3" width="9" height="21.3" fill="#4dc31f"/>
<rect x="286" y="320.1" width="1" height="41.9" fill="#f3242f"/>
<rect x="282" y="352.0" width="9" height="1.6" fill="#f3242f"/>
<rect x="298" y="294.7" width="1" height="58.0" fill="#f3242f"/>
<rect x="294" y="318.3" width="9" height="34.4" fill="#f3242f"/>
<rect x="309" y="300.0" width="1" height="18.7" fill="#f3242f"/>
<rect x="305" y="305.2" width="9" height="13.4" fill="#f3242f"/>
<rect x="320" y="302.9" width="1" height="23.2" fill="#4dc31f"/>
<rect x="316" y="305.2" width="9" height="3.5" fill="#4dc31f"/>
<rect x="331" y="272.0" width="1" height="41.0" fill="#f3242f"/>
<rect x="327" y="292.1" width="9" height="16.6" fill="#f3242f"/>
<rect x="343" y="286.9" width="1" height="14.0" fill="#f3242f"/>
<rect x="339" y="291.2" width="9" height="1.7" fill="#f3242f"/>
<rect x="354" y="283.0" width="1" height="32.6" fill="#f3242f"/>
<rect x="350" y="285.1" width="9" height="6.6" fill="#f3242f"/>
<rect x="365" y="276.8" width="1" height="38.1" fill="#4dc31f"/>
<rect x="361" y="285.1" width="9" height="23.6" fill="#4dc31f"/>
<rect x="377" y="296.5" width="1" height="17.8" fill="#4dc31f"/>
<rect x="373" y="307.8" width="9" height="2.1" fill="#4dc31f"/>
<rect x="388" y="293.0" width="1" height="66.7" fill="#4dc31f"/>
<rect x="384" y="309.1" width="9" height="48.9" fill="#4dc31f"/>
<rect x="399" y="345.4" width="1" height="22.7" fill="#f3242f"/>
<rect x="395" y="346.2" width="9" height="11.7" fill="#f3242f"/>
<rect x="410" y="346.2" width="1" height="23.9" fill="#4dc31f"/>
<rect x="406" y="346.2" width="9" height="22.3" fill="#4dc31f"/>
<rect x="422" y="340.7" width="1" height="43.6" fill="#f3242f"/>
<rect x="418" y="349.0" width="9" height="19.6" fill="#f3242f"/>
<rect x="433" y="331.4" width="1" height="25.3" fill="#f3242f"/>
<rect x="429" y="345.2" width="9" height="4.7" fill="#f3242f"/>
<rect x="444" y="341.0" width="1" height="11.9" fill="#4dc31f"/>
<rect x="440" y="345.2" width="9" height="2.8" fill="#4dc31f"/>
<rect x="455" y="343.8" width="1" height="22.7" fill="#4dc31f"/>
<rect x="451" y="347.1" width="9" height="10.8" fill="#4dc31f"/>
<rect x="467" y="335.8" width="1" height="26.2" fill="#f3242f"/>
<rect x="463" y="343.1" width="9" height="14.8" fill="#f3242f"/>
<rect x="478" y="334.9" width="1" height="18.9" fill="#4dc31f"/>
<rect x="474" y="343.1" width="9" height="1.5" fill="#4dc31f"/>
<rect x="489" y="332.3" width="1" height="27.1" fill="#4dc31f"/>
<rect x="485" y="344.0" width="9" height="5.8" fill="#4dc31f"/>
<rect x="500" y="341.9" width="1" height="10.0" fill="#f3242f"/>
<rect x="496" y="348.0" width="9" height="1.7" fill="#f3242f"/>
<rect x="512" y="344.8" width="1" height="4.9" fill="#f3242f"/>
<rect x="508" y="345.4" width="9" height="3.5" fill="#f3242f"/>
<rect x="523" y="345.4" width="1" height="4.4" fill="#4dc31f"/>
<rect x="519" y="345.4" width="9" height="4.4" fill="#4dc31f"/>
<rect x="534" y="342.2" width="1" height="8.4" fill="#f3242f"/>
<rect x="530" y="344.1" width="9" height="5.6" fill="#f3242f"/>
<rect x="546" y="337.2" width="1" height="9.6" fill="#f3242f"/>
<rect x="542" y="339.3" width="9" height="5.6" fill="#f3242f"/>
<rect x="557" y="326.5" width="1" height="17.1" fill="#f3242f"/>
<rect x="553" y="332.3" width="9" height="7.3" fill="#f3242f"/>
<rect x="568" y="327.0" width="1" height="8.7" fill="#4dc31f"/>
<rect x="564" y="332.3" width="9" height="3.1" fill="#4dc31f"/>
<rect x="579" y="329.1" width="1" height="9.6" fill="#f3242f"/>
<rect x="575" y="334.5" width="9" height="1.5" fill="#f3242f"/>
<rect x="591" y="334.9" width="1" height="10.5" fill="#4dc31f"/>
<rect x="587" y="334.9" width="9" height="5.8" fill="#4dc31f"/>
<rect x="602" y="337.9" width="1" height="18.3" fill="#4dc31f"/>
<rect x="598" y="340.1" width="9" height="10.5" fill="#4dc31f"/>
<rect x="613" y="338.9" width="1" height="11.7" fill="#f3242f"/>
<rect x="609" y="344.1" width="9" height="6.5" fill="#f3242f"/>
<rect x="624" y="317.1" width="1" height="36.7" fill="#f3242f"/>
<rect x="620" y="334.4" width="9" height="11.2" fill="#f3242f"/>
<rect x="636" y="326.2" width="1" height="12.2" fill="#f3242f"/>
<rect x="632" y="333.4" width="9" height="2.0" fill="#f3242f"/>
<rect x="647" y="278.4" width="1" height="56.0" fill="#f3242f"/>
<rect x="643" y="282.0" width="9" height="52.4" fill="#f3242f"/>
<rect x="658" y="263.5" width="1" height="25.5" fill="#f3242f"/>
<rect x="654" y="278.4" width="9" height="4.1" fill="#f3242f"/>
<rect x="669" y="271.2" width="1" height="17.3" fill="#4dc31f"/>
<rect x="665" y="278.4" width="9" height="1.6" fill="#4dc31f"/>
<rect x="681" y="242.7" width="1" height="36.7" fill="#f3242f"/>
<rect x="677" y="263.1" width="9" height="16.3" fill="#f3242f"/>
<rect x="692" y="252.3" width="1" height="25.5" fill="#f3242f"/>
<rect x="688" y="253.3" width="9" height="10.2" fill="#f3242f"/>
<rect x="703" y="240.1" width="1" height="33.8" fill="#4dc31f"/>
<rect x="699" y="253.3" width="9" height="7.1" fill="#4dc31f"/>
<rect x="714" y="252.5" width="1" height="51.3" fill="#4dc31f"/>
<rect x="710" y="260.0" width="9" height="27.5" fill="#4dc31f"/>
<rect x="726" y="278.0" width="1" height="26.9" fill="#4dc31f"/>
<rect x="722" y="287.1" width="9" height="2.4" fill="#4dc31f"/>
<rect x="737" y="282.4" width="1" height="16.9" fill="#4dc31f"/>
<rect x="733" y="289.2" width="9" height="5.1" fill="#4dc31f"/>
<rect x="748" y="274.3" width="1" height="36.3" fill="#4dc31f"/>
<rect x="744" y="294.1" width="9" height="8.4" fill="#4dc31f"/>
<rect x="760" y="292.6" width="1" height="28.5" fill="#4dc31f"/>
<rect x="756" y="302.2" width="9" height="6.3" fill="#4dc31f"/>
<rect x="771" y="279.4" width="1" height="31.2" fill="#f3242f"/>
<rect x="767" y="282.0" width="9" height="26.5" fill="#f3242f"/>
<rect x="782" y="165.3" width="1" height="117.1" fill="#f3242f"/>
<rect x="778" y="192.2" width="9" height="90.2" fill="#f3242f"/>
<rect x="793" y="185.7" width="1" height="27.1" fill="#4dc31f"/>
<rect x="789" y="192.2" width="9" height="19.4" fill="#4dc31f"/>
<rect x="805" y="190.4" width="1" height="21.2" fill="#f3242f"/>
<rect x="801" y="200.4" width="9" height="11.2" fill="#f3242f"/>
<rect x="816" y="190.2" width="1" height="18.3" fill="#f3242f"/>
<rect x="812" y="199.3" width="9" height="1.6" fill="#f3242f"/>
<rect x="827" y="162.3" width="1" height="67.6" fill="#4dc31f"/>
<rect x="823" y="198.9" width="9" height="12.6" fill="#4dc31f"/>
<rect x="838" y="190.2" width="1" height="29.5" fill="#f3242f"/>
<rect x="834" y="210.3" width="9" height="1.5" fill="#f3242f"/>
<rect x="850" y="196.9" width="1" height="26.9" fill="#4dc31f"/>
<rect x="846" y="211.1" width="9" height="7.5" fill="#4dc31f"/>
<rect x="861" y="214.2" width="1" height="21.8" fill="#4dc31f"/>
<rect x="857" y="218.3" width="9" height="3.5" fill="#4dc31f"/>
<rect x="872" y="216.6" width="1" height="13.2" fill="#4dc31f"/>
<rect x="868" y="219.9" width="9" height="1.5" fill="#4dc31f"/>
<rect x="883" y="202.2" width="1" height="22.8" fill="#f3242f"/>
<rect x="879" y="216.2" width="9" height="5.5" fill="#f3242f"/>
<rect x="895" y="178.1" width="1" height="57.4" fill="#f3242f"/>
<rect x="891" y="185.3" width="9" height="31.4" fill="#f3242f"/>
<rect x="906" y="172.0" width="1" height="26.9" fill="#4dc31f"/>
<rect x="902" y="185.3" width="9" height="2.4" fill="#4dc31f"/>
<rect x="917" y="154.1" width="1" height="48.9" fill="#4dc31f"/>
<rect x="913" y="187.3" width="9" height="8.6" fill="#4dc31f"/>
<rect x="929" y="177.5" width="1" height="25.1" fill="#f3242f"/>
<rect x="925" y="194.4" width="9" height="1.8" fill="#f3242f"/>
<rect x="940" y="180.8" width="1" height="26.7" fill="#4dc31f"/>
<rect x="936" y="194.3" width="9" height="11.6" fill="#4dc31f"/>
<rect x="951" y="181.4" width="1" height="25.5" fill="#f3242f"/>
<rect x="947" y="186.1" width="9" height="19.8" fill="#f3242f"/>
<rect x="962" y="149.9" width="1" height="42.8" fill="#f3242f"/>
<rect x="958" y="176.3" width="9" height="10.6" fill="#f3242f"/>
<rect x="974" y="150.9" width="1" height="26.9" fill="#f3242f"/>
<rect x="970" y="151.9" width="9" height="24.9" fill="#f3242f"/>
<rect x="985" y="145.8" width="1" height="22.0" fill="#4dc31f"/>
<rect x="981" y="151.9" width="9" height="8.8" fill="#4dc31f"/>
<rect x="996" y="156.0" width="1" height="12.8" fill="#4dc31f"/>
<rect x="992" y="160.0" width="9" height="3.7" fill="#4dc31f"/>
<rect x="1007" y="160.0" width="1" height="10.8" fill="#4dc31f"/>
<rect x="1003" y="163.1" width="9" height="3.7" fill="#4dc31f"/>
<rect x="1019" y="161.1" width="1" height="8.8" fill="#f3242f"/>
<rect x="1015" y="161.1" width="9" height="5.7" fill="#f3242f"/>
<rect x="1030" y="159.0" width="1" height="14.7" fill="#4dc31f"/>
<rect x="1026" y="161.1" width="9" height="2.6" fill="#4dc31f"/>
<rect x="1041" y="133.6" width="1" height="31.0" fill="#f3242f"/>
<rect x="1037" y="137.6" width="9" height="26.1" fill="#f3242f"/>
<rect x="1052" y="136.6" width="1" height="24.9" fill="#4dc31f"/>
<rect x="1048" y="137.6" width="9" height="20.0" fill="#4dc31f"/>
<rect x="1064" y="154.5" width="1" height="56.4" fill="#4dc31f"/>
<rect x="1060" y="157.0" width="9" height="45.8" fill="#4dc31f"/>
<rect x="1075" y="197.1" width="1" height="10.2" fill="#f3242f"/>
<rect x="1071" y="200.2" width="9" height="2.6" fill="#f3242f"/>
<rect x="1086" y="195.1" width="1" height="14.3" fill="#4dc31f"/>
<rect x="1082" y="200.2" width="9" height="6.7" fill="#4dc31f"/>
<rect x="1098" y="204.4" width="1" height="27.9" fill="#4dc31f"/>
<rect x="1094" y="205.9" width="9" height="18.7" fill="#4dc31f"/>
<rect x="1109" y="213.4" width="1" height="12.4" fill="#f3242f"/>
<rect x="1105" y="217.1" width="9" height="7.5" fill="#f3242f"/>
<rect x="1120" y="205.9" width="1" height="29.5" fill="#4dc31f"/>
<rect x="1116" y="217.1" width="9" height="11.6" fill="#4dc31f"/>
<rect x="1131" y="211.0" width="1" height="20.8" fill="#f3242f"/>
<rect x="1127" y="221.2" width="9" height="7.5" fill="#f3242f"/>
<rect x="1143" y="215.4" width="1" height="14.5" fill="#4dc31f"/>
<rect x="1139" y="221.2" width="9" height="5.7" fill="#4dc31f"/>
<rect x="1154" y="220.1" width="1" height="13.2" fill="#f3242f"/>
<rect x="1150" y="222.8" width="9" height="4.1" fill="#f3242f"/>
<rect x="1165" y="175.3" width="1" height="51.9" fill="#f3242f"/>
<rect x="1161" y="194.1" width="9" height="29.5" fill="#f3242f"/>
<rect x="1176" y="144.1" width="1" height="55.6" fill="#f3242f"/>
<rect x="1172" y="148.8" width="9" height="45.8" fill="#f3242f"/>
<rect x="1188" y="98.5" width="1" height="60.1" fill="#f3242f"/>
<rect x="1184" y="114.8" width="9" height="34.6" fill="#f3242f"/>
<rect x="1199" y="110.1" width="1" height="19.8" fill="#f3242f"/>
<rect x="1195" y="114.2" width="9" height="1.5" fill="#f3242f"/>
<rect x="1210" y="97.9" width="1" height="25.1" fill="#f3242f"/>
<rect x="1206" y="111.1" width="9" height="3.7" fill="#f3242f"/>
<rect x="1221" y="99.9" width="1" height="18.7" fill="#4dc31f"/>
<rect x="1217" y="111.1" width="9" height="6.5" fill="#4dc31f"/>
<rect x="1233" y="65.7" width="1" height="54.0" fill="#f3242f"/>
<rect x="1229" y="88.1" width="9" height="28.9" fill="#f3242f"/>
<rect x="1244" y="76.3" width="1" height="57.6" fill="#4dc31f"/>
<rect x="1240" y="88.1" width="9" height="33.6" fill="#4dc31f"/>
<rect x="1255" y="114.6" width="1" height="20.4" fill="#4dc31f"/>
<rect x="1251" y="121.3" width="9" height="2.4" fill="#4dc31f"/>
<rect x="1266" y="103.4" width="1" height="20.4" fill="#f3242f"/>
<rect x="1262" y="117.0" width="9" height="6.7" fill="#f3242f"/>
<rect x="1278" y="113.6" width="1" height="29.5" fill="#4dc31f"/>
<rect x="1274" y="117.0" width="9" height="19.6" fill="#4dc31f"/>
<rect x="1289" y="119.7" width="1" height="17.9" fill="#f3242f"/>
<rect x="1285" y="121.1" width="9" height="15.5" fill="#f3242f"/>
<rect x="1300" y="111.9" width="1" height="29.5" fill="#4dc31f"/>
<rect x="1296" y="121.1" width="9" height="12.4" fill="#4dc31f"/>
<rect x="1312" y="88.1" width="1" height="46.9" fill="#f3242f"/>
<rect x="1308" y="97.3" width="9" height="36.3" fill="#f3242f"/>
<rect x="1323" y="83.0" width="1" height="29.1" fill="#4dc31f"/>
<rect x="1319" y="97.3" width="9" height="6.5" fill="#4dc31f"/>
<rect x="1334" y="88.7" width="1" height="26.3" fill="#f3242f"/>
<rect x="1330" y="100.9" width="9" height="2.9" fill="#f3242f"/>
<rect x="1345" y="91.8" width="1" height="16.3" fill="#4dc31f"/>
<rect x="1341" y="100.9" width="9" height="5.9" fill="#4dc31f"/>
<rect x="1357" y="99.9" width="1" height="19.4" fill="#4dc31f"/>
<rect x="1353" y="106.4" width="9" height="4.5" fill="#4dc31f"/>
<rect x="1368" y="96.2" width="1" height="54.6" fill="#f3242f"/>
<rect x="1364" y="106.0" width="9" height="4.9" fill="#f3242f"/>
<rect x="1379" y="98.9" width="1" height="18.7" fill="#4dc31f"/>
<rect x="1375" y="106.0" width="9" height="11.6" fill="#4dc31f"/>
<polyline fill="none" stroke="#e6d21e" stroke-width="1.2" stroke-linejoin="round" points="1.0,179.8 6.1,174.7 16.3,170.2 27.5,167.1 38.7,165.5 49.9,162.4 61.1,165.5 72.3,170.6 84.5,179.8 95.7,193.0 106.9,204.2 118.2,215.4 129.4,233.7 140.6,255.1 151.8,268.4 163.0,279.6 175.2,290.8 185.4,295.9 196.6,305.0 207.8,313.8 219.0,322.8 241.4,322.8 252.6,319.9 263.8,317.7 286.2,317.7 297.4,313.6 308.6,306.7 320.0,302.0 331.8,293.0 343.2,286.0 353.6,280.2 365.9,277.8 376.3,277.1 388.6,277.5 399.0,280.4 410.4,278.5 421.7,278.5 432.2,279.4 467.1,279.4 484.6,280.9 512.5,281.3 523.9,282.7 535.2,285.5 545.7,288.6 557.0,294.7 568.4,302.9 579.7,314.8 591.1,321.8 602.4,330.2 613.8,330.2 624.2,329.3 630.2,329.9 636.3,329.9 646.9,308.9 658.3,293.7 669.5,284.5 680.7,275.3 691.7,261.1 703.3,252.3 714.5,248.2 725.5,246.8 736.7,245.8 748.3,245.4 759.5,245.4 770.7,243.3 776.9,233.6 781.9,220.3 789.1,211.1 793.4,207.1 804.6,195.9 815.8,184.7 827.4,179.6 838.4,176.5 849.6,174.5 860.8,175.5 872.2,172.0 883.4,169.0 894.6,162.3 905.8,156.1 917.4,151.7 925.6,148.0 942.2,145.4 960.6,142.9 973.4,142.1 984.6,148.8 995.8,155.4 1007.4,151.9 1018.4,148.2 1029.6,145.4 1041.0,137.6 1052.4,134.6 1063.6,134.6 1074.8,135.6 1086.2,136.4 1109.3,136.4 1119.9,134.6 1131.3,133.1 1142.5,131.9 1153.7,131.5 1164.7,131.1 1176.3,127.4 1187.7,116.9 1198.7,109.1 1220.0,95.2 1226.1,88.1 1232.6,82.0 1243.8,76.9 1255.0,73.2 1266.4,70.4 1277.6,68.3 1288.9,64.7 1300.5,61.2 1311.5,54.5 1322.7,51.0 1333.7,49.0 1345.3,50.8 1356.5,54.1 1367.7,59.6 1374.8,68.7 1379.9,75.9"/>
<polyline fill="none" stroke="#c8c8c8" stroke-width="1.2" stroke-linejoin="round" points="1.0,249.6 16.3,261.2 27.5,269.4 38.7,274.9 49.9,279.6 61.1,285.7 72.3,291.8 84.5,297.3 95.7,305.0 106.9,312.2 118.2,317.7 129.4,324.4 140.6,330.5 151.8,336.6 163.0,340.7 175.2,345.8 192.0,350.6 218.2,353.2 235.7,352.9 253.1,350.6 270.6,348.5 288.1,347.6 305.5,344.5 320.0,341.9 331.8,337.9 343.2,334.5 353.6,331.4 365.9,329.1 376.3,327.4 388.6,326.2 399.0,325.3 410.4,326.2 421.7,327.9 432.2,329.1 444.4,330.0 455.8,330.0 467.1,329.3 477.6,330.2 489.8,331.1 512.5,331.4 523.9,332.3 535.2,334.4 545.7,336.1 557.0,338.0 568.4,340.1 579.7,342.4 591.1,344.5 602.4,346.6 613.8,345.9 624.2,345.2 635.7,343.2 646.9,340.5 658.3,336.4 669.5,332.8 680.7,328.7 691.7,324.6 703.3,320.1 714.5,316.1 725.5,314.6 736.7,311.6 748.3,309.5 759.5,307.9 770.7,304.9 781.9,297.7 793.4,289.6 804.6,282.4 815.8,275.3 827.4,269.2 838.4,263.5 849.6,259.0 860.8,252.9 872.2,249.4 883.4,246.4 894.6,241.7 905.8,237.6 917.4,234.0 928.4,230.5 930.0,231.3 940.2,226.9 950.8,222.2 962.2,216.1 973.4,208.9 984.6,201.8 995.8,195.7 1007.4,194.1 1018.4,191.6 1029.6,190.6 1041.0,186.9 1052.4,184.5 1063.6,183.5 1074.8,182.4 1086.2,182.4 1109.3,182.4 1119.9,184.5 1131.3,186.5 1142.5,187.9 1153.7,189.6 1164.7,188.6 1176.3,186.5 1187.7,183.5 1198.7,181.4 1209.9,179.4 1220.0,178.1 1232.6,173.7 1243.8,171.6 1255.0,169.6 1266.4,168.6 1277.6,167.5 1288.9,163.5 1300.5,159.4 1311.5,154.3 1322.7,148.2 1333.7,142.5 1345.3,136.0 1356.5,129.9 1367.7,124.1 1378.9,119.7"/>
<polyline fill="none" stroke="#c640a8" stroke-width="1.2" stroke-linejoin="round" points="0.0,320.9 8.7,335.8 17.5,349.7 26.2,363.7 34.9,375.9 43.6,386.4 52.4,396.0 61.1,403.9 69.8,410.0 78.6,413.5 92.5,416.9 107.4,419.6 122.2,418.0 136.2,410.0 148.4,405.2 172.8,403.0 188.5,398.6 218.2,384.3 230.4,385.2 240.9,382.6 258.4,380.8 286.3,377.3 298.5,376.4 310.8,379.1 320.0,380.3 331.8,381.5 343.2,382.4 353.6,382.4 365.9,379.8 376.3,377.1 388.6,375.0 399.0,370.3 410.4,375.0 421.7,377.1 432.2,379.1 444.4,380.3 455.8,380.3 467.1,379.1 477.6,381.2 489.8,382.6 502.0,381.5 512.5,380.3 523.9,382.0 535.2,383.3 545.7,383.3 557.0,381.5 568.4,377.7 579.7,370.7 591.1,367.2 602.4,362.3 610.0,361.5 624.5,361.5 636.4,356.2 647.7,369.5 658.6,376.6 669.5,379.4 681.4,382.6 692.3,387.5 703.2,388.5 714.1,384.5 726.0,381.6 736.9,377.6 748.8,373.4 759.7,369.5 771.2,365.5 782.2,374.4 793.5,374.4 805.4,373.0 816.3,370.7 828.2,361.1 839.1,351.2 850.0,342.3 860.9,329.4 871.8,326.4 882.7,323.5 894.6,321.5 905.5,320.5 916.4,318.5 928.3,316.5 939.2,310.6 950.1,302.6 961.1,292.7 972.0,278.8 982.9,258.0 996.2,235.0 1007.4,235.4 1018.4,234.8 1029.6,234.4 1041.0,235.8 1052.4,234.4 1063.6,233.4 1074.8,230.3 1086.2,227.3 1097.4,228.3 1108.7,228.3 1119.9,235.4 1128.6,238.5 1141.7,243.2 1153.4,246.2 1165.0,245.3 1176.8,246.5 1188.5,250.8 1199.4,254.5 1210.4,257.0 1222.0,259.6 1232.3,264.3 1244.0,264.3 1255.7,265.2 1265.9,265.2 1277.6,265.2 1289.3,262.5 1300.2,257.4 1311.2,253.5 1322.9,245.7 1333.9,236.2 1344.8,223.0 1356.5,207.0 1368.2,188.0 1374.8,172.6 1379.9,163.0"/>
<line x1="174.3" y1="406.5" x2="1231.5" y2="65.9" stroke="#1e8ae6" stroke-width="1.15" stroke-dasharray="5 4"/>
</g>
<text x="3" y="60.0" fill="#5a35f5" font-size="11.8" >0.0%(75985.5)</text>
<text x="3" y="141.0" fill="#a621e6" font-size="11.8" >23.6%(73378.0)</text>
<text x="3" y="191.0" fill="#b02ae0" font-size="11.8" >38.2%(71764.9)</text>
<text x="3" y="231.0" fill="#2f7cf6" font-size="11.8" >50.0%(70461.1)</text>
<text x="3" y="271.0" fill="#2f7cf6" font-size="11.8" >61.8%(69157.4)</text>
<text x="3" y="329.0" fill="#e03cb4" font-size="11.8" >78.6%(67301.2)</text>
<text x="3" y="402.0" fill="#e03cb4" font-size="11.8" >100.0%(64936.8)</text>
<text x="1173.0" y="68.0" fill="#fff" font-size="12" font-weight="bold">75985.5</text>
<text x="189.0" y="410.0" fill="#fff" font-size="12" font-weight="bold">64936.8</text>
<path d="M1224.5 62.5 l4 2.5 l-4 2.5" fill="none" stroke="#aaa" stroke-width="1"/>
<path d="M184.0 404.0 l-4 2 l4 2" fill="none" stroke="#aaa" stroke-width="1"/>
<text x="1140.0" y="257.0" fill="#109010" font-size="13.5">超卖</text>
<text x="-9.0" y="392.0" fill="#109010" font-size="13.5">超卖</text>
<g clip-path="url(#cp)">
<rect x="1.5" y="482.3" width="8" height="13.0" fill="none" stroke="#2aa783" stroke-width="1"/>
<rect x="12.5" y="482.3" width="8" height="15.7" fill="none" stroke="#2aa783" stroke-width="1"/>
<rect x="23.5" y="482.3" width="8" height="16.6" fill="none" stroke="#2aa783" stroke-width="1"/>
<rect x="35" y="481.8" width="9" height="17.3" fill="#2aa783"/>
<rect x="46" y="481.8" width="9" height="14.9" fill="#2aa783"/>
<rect x="57" y="481.8" width="9" height="13.1" fill="#2aa783"/>
<rect x="68" y="481.8" width="9" height="11.0" fill="#2aa783"/>
<rect x="80" y="481.8" width="9" height="7.2" fill="#2aa783"/>
<rect x="91" y="481.8" width="9" height="4.1" fill="#2aa783"/>
<rect x="102" y="481.8" width="9" height="3.2" fill="#2aa783"/>
<rect x="113" y="480.7" width="9" height="2.2" fill="#2aa783"/>
<rect x="125" y="480.1" width="9" height="1.8" fill="#d93f3f"/>
<rect x="136" y="480.1" width="9" height="1.8" fill="#d93f3f"/>
<rect x="147.5" y="479.7" width="8" height="1.7" fill="none" stroke="#d93f3f" stroke-width="1"/>
<rect x="159" y="479.2" width="9" height="2.7" fill="#d93f3f"/>
<rect x="170" y="480.1" width="9" height="1.8" fill="#d93f3f"/>
<rect x="181.5" y="477.8" width="8" height="3.7" fill="none" stroke="#d93f3f" stroke-width="1"/>
<rect x="192.5" y="474.7" width="8" height="6.7" fill="none" stroke="#d93f3f" stroke-width="1"/>
<rect x="204.5" y="473.8" width="8" height="7.6" fill="none" stroke="#d93f3f" stroke-width="1"/>
<rect x="215.5" y="472.5" width="8" height="8.9" fill="none" stroke="#d93f3f" stroke-width="1"/>
<rect x="226" y="474.2" width="9" height="7.7" fill="#d93f3f"/>
<rect x="237" y="476.0" width="9" height="5.9" fill="#d93f3f"/>
<rect x="249.5" y="474.7" width="8" height="6.7" fill="none" stroke="#d93f3f" stroke-width="1"/>
<rect x="260" y="474.2" width="9" height="7.7" fill="#d93f3f"/>
<rect x="271" y="476.0" width="9" height="5.9" fill="#d93f3f"/>
<rect x="282" y="478.2" width="9" height="3.8" fill="#d93f3f"/>
<rect x="294.5" y="476.5" width="8" height="4.9" fill="none" stroke="#d93f3f" stroke-width="1"/>
<rect x="305.5" y="474.7" width="8" height="6.7" fill="none" stroke="#d93f3f" stroke-width="1"/>
<rect x="316.5" y="473.4" width="8" height="8.0" fill="none" stroke="#d93f3f" stroke-width="1"/>
<rect x="327.5" y="472.9" width="8" height="8.5" fill="none" stroke="#d93f3f" stroke-width="1"/>
<rect x="339.5" y="472.0" width="8" height="9.4" fill="none" stroke="#d93f3f" stroke-width="1"/>
<rect x="350.5" y="472.0" width="8" height="9.4" fill="none" stroke="#d93f3f" stroke-width="1"/>
<rect x="361" y="473.3" width="9" height="8.6" fill="#d93f3f"/>
<rect x="373" y="475.1" width="9" height="6.8" fill="#d93f3f"/>
<rect x="395" y="481.8" width="9" height="1.8" fill="#2aa783"/>
<rect x="406.5" y="482.3" width="8" height="3.7" fill="none" stroke="#2aa783" stroke-width="1"/>
<rect x="418.5" y="482.3" width="8" height="4.6" fill="none" stroke="#2aa783" stroke-width="1"/>
<rect x="429" y="481.8" width="9" height="4.7" fill="#2aa783"/>
<rect x="440" y="481.8" width="9" height="4.7" fill="#2aa783"/>
<rect x="451.5" y="482.3" width="8" height="3.7" fill="none" stroke="#2aa783" stroke-width="1"/>
<rect x="463" y="481.8" width="9" height="3.6" fill="#2aa783"/>
<rect x="474" y="481.8" width="9" height="2.3" fill="#2aa783"/>
<rect x="485" y="481.8" width="9" height="1.8" fill="#2aa783"/>
<rect x="496" y="481.8" width="9" height="1.6" fill="#2aa783"/>
<rect x="508" y="481.8" width="9" height="1.6" fill="#2aa783"/>
<rect x="519" y="481.8" width="9" height="1.6" fill="#2aa783"/>
<rect x="530" y="480.9" width="9" height="2.0" fill="#2aa783"/>
<rect x="542" y="480.1" width="9" height="1.8" fill="#d93f3f"/>
<rect x="553" y="480.1" width="9" height="1.8" fill="#d93f3f"/>
<rect x="564.5" y="479.7" width="8" height="1.7" fill="none" stroke="#d93f3f" stroke-width="1"/>
<rect x="575.5" y="479.7" width="8" height="1.7" fill="none" stroke="#d93f3f" stroke-width="1"/>
<rect x="587" y="480.1" width="9" height="1.8" fill="#d93f3f"/>
<rect x="598" y="480.1" width="9" height="1.8" fill="#d93f3f"/>
<rect x="609" y="480.1" width="9" height="1.8" fill="#d93f3f"/>
<rect x="620" y="480.1" width="9" height="1.8" fill="#d93f3f"/>
<rect x="632" y="479.8" width="9" height="2.2" fill="#d93f3f"/>
<rect x="643.5" y="477.0" width="8" height="4.4" fill="none" stroke="#d93f3f" stroke-width="1"/>
<rect x="654.5" y="474.3" width="8" height="7.1" fill="none" stroke="#d93f3f" stroke-width="1"/>
<rect x="665.5" y="472.9" width="8" height="8.5" fill="none" stroke="#d93f3f" stroke-width="1"/>
<rect x="677.5" y="471.1" width="8" height="10.3" fill="none" stroke="#d93f3f" stroke-width="1"/>
<rect x="688.5" y="469.8" width="8" height="11.6" fill="none" stroke="#d93f3f" stroke-width="1"/>
<rect x="699" y="470.6" width="9" height="11.3" fill="#d93f3f"/>
<rect x="710" y="473.3" width="9" height="8.6" fill="#d93f3f"/>
<rect x="722" y="476.0" width="9" height="5.9" fill="#d93f3f"/>
<rect x="733" y="479.2" width="9" height="2.7" fill="#d93f3f"/>
<rect x="744" y="480.1" width="9" height="1.8" fill="#d93f3f"/>
<rect x="756" y="481.8" width="9" height="1.8" fill="#2aa783"/>
<rect x="767" y="481.8" width="9" height="1.8" fill="#2aa783"/>
<rect x="778.5" y="475.6" width="8" height="5.8" fill="none" stroke="#d93f3f" stroke-width="1"/>
<rect x="789.5" y="473.8" width="8" height="7.6" fill="none" stroke="#d93f3f" stroke-width="1"/>
<rect x="801.5" y="472.0" width="8" height="9.4" fill="none" stroke="#d93f3f" stroke-width="1"/>
<rect x="812.5" y="470.7" width="8" height="10.7" fill="none" stroke="#d93f3f" stroke-width="1"/>
<rect x="823" y="472.0" width="9" height="9.9" fill="#d93f3f"/>
<rect x="834" y="474.2" width="9" height="7.7" fill="#d93f3f"/>
<rect x="846" y="476.0" width="9" height="5.9" fill="#d93f3f"/>
<rect x="857" y="478.2" width="9" height="3.8" fill="#d93f3f"/>
<rect x="868" y="480.1" width="9" height="1.8" fill="#d93f3f"/>
<rect x="879" y="480.1" width="9" height="1.8" fill="#d93f3f"/>
<rect x="891" y="480.1" width="9" height="1.8" fill="#d93f3f"/>
<rect x="902.5" y="479.7" width="8" height="1.7" fill="none" stroke="#d93f3f" stroke-width="1"/>
<rect x="913" y="480.1" width="9" height="1.8" fill="#d93f3f"/>
<rect x="925" y="480.1" width="9" height="1.8" fill="#d93f3f"/>
<rect x="936" y="481.8" width="9" height="1.8" fill="#2aa783"/>
<rect x="947" y="481.8" width="9" height="1.8" fill="#2aa783"/>
<rect x="958" y="480.9" width="9" height="2.0" fill="#2aa783"/>
<rect x="970" y="480.1" width="9" height="1.8" fill="#d93f3f"/>
<rect x="981" y="480.1" width="9" height="1.8" fill="#d93f3f"/>
<rect x="992" y="480.1" width="9" height="1.8" fill="#d93f3f"/>
<rect x="1003" y="480.3" width="9" height="1.9" fill="#d93f3f"/>
<rect x="1015" y="481.1" width="9" height="1.9" fill="#2aa783"/>
<rect x="1026" y="481.1" width="9" height="1.9" fill="#2aa783"/>
<rect x="1037" y="480.3" width="9" height="1.9" fill="#d93f3f"/>
<rect x="1048" y="481.1" width="9" height="1.9" fill="#2aa783"/>
<rect x="1060.5" y="482.4" width="8" height="4.4" fill="none" stroke="#2aa783" stroke-width="1"/>
<rect x="1071.5" y="482.4" width="8" height="6.4" fill="none" stroke="#2aa783" stroke-width="1"/>
<rect x="1082.5" y="482.4" width="8" height="8.7" fill="none" stroke="#2aa783" stroke-width="1"/>
<rect x="1094.5" y="482.4" width="8" height="11.8" fill="none" stroke="#2aa783" stroke-width="1"/>
<rect x="1105.5" y="482.4" width="8" height="11.8" fill="none" stroke="#2aa783" stroke-width="1"/>
<rect x="1116.5" y="482.4" width="8" height="12.8" fill="none" stroke="#2aa783" stroke-width="1"/>
<rect x="1127" y="481.9" width="9" height="12.8" fill="#2aa783"/>
<rect x="1139" y="481.9" width="9" height="12.8" fill="#2aa783"/>
<rect x="1150" y="481.9" width="9" height="11.5" fill="#2aa783"/>
<rect x="1161" y="481.9" width="9" height="7.6" fill="#2aa783"/>
<rect x="1172" y="481.9" width="9" height="1.6" fill="#2aa783"/>
<rect x="1184.5" y="477.5" width="8" height="3.9" fill="none" stroke="#d93f3f" stroke-width="1"/>
<rect x="1195.5" y="474.0" width="8" height="7.5" fill="none" stroke="#d93f3f" stroke-width="1"/>
<rect x="1206.5" y="471.9" width="8" height="9.5" fill="none" stroke="#d93f3f" stroke-width="1"/>
<rect x="1217.5" y="471.9" width="8" height="9.5" fill="none" stroke="#d93f3f" stroke-width="1"/>
<rect x="1229.5" y="470.3" width="8" height="11.2" fill="none" stroke="#d93f3f" stroke-width="1"/>
<rect x="1240" y="472.0" width="9" height="9.9" fill="#d93f3f"/>
<rect x="1251" y="474.1" width="9" height="7.8" fill="#d93f3f"/>
<rect x="1262" y="476.1" width="9" height="5.8" fill="#d93f3f"/>
<rect x="1274" y="479.2" width="9" height="2.7" fill="#d93f3f"/>
<rect x="1285" y="480.3" width="9" height="1.9" fill="#d93f3f"/>
<rect x="1296" y="481.1" width="9" height="1.9" fill="#2aa783"/>
<rect x="1308" y="480.3" width="9" height="1.9" fill="#d93f3f"/>
<rect x="1319" y="480.3" width="9" height="1.9" fill="#d93f3f"/>
<rect x="1330" y="480.3" width="9" height="1.9" fill="#d93f3f"/>
<rect x="1341" y="480.3" width="9" height="1.9" fill="#d93f3f"/>
<rect x="1353" y="481.1" width="9" height="1.9" fill="#2aa783"/>
<rect x="1364" y="481.9" width="9" height="1.9" fill="#2aa783"/>
<rect x="1375.5" y="482.4" width="8" height="1.9" fill="none" stroke="#2aa783" stroke-width="1"/>
<polyline fill="none" stroke="#d0d0d0" stroke-width="1.2" points="0.9,491.3 10.8,495.8 22.5,498.5 34.2,500.3 50.4,502.5 72.0,502.5 95.4,500.3 117.0,499.1 140.4,497.6 162.0,497.3 180.1,495.8 198.1,491.8 216.1,490.0 241.3,489.5 252.1,487.3 286.3,487.3 306.1,484.1 324.1,481.4 335.0,480.5 345.8,479.2 354.4,476.9 380.0,476.9 388.3,480.5 399.5,482.8 410.8,484.1 422.0,484.6 433.3,485.0 455.8,485.9 467.2,485.9 478.3,485.0 489.7,486.4 500.8,485.9 512.2,485.0 546.0,485.0 568.5,483.2 613.5,483.2 636.2,482.3 647.4,478.7 658.7,476.9 669.9,475.1 681.2,473.3 692.5,471.0 703.7,470.2 715.0,471.1 726.2,471.5 737.5,472.0 748.7,473.3 760.0,474.7 771.4,474.2 782.5,470.6 793.9,467.9 805.0,465.2 816.4,464.3 827.7,463.4 838.9,463.4 850.2,463.8 861.4,464.3 872.7,465.6 883.9,465.6 895.2,464.8 906.6,464.8 917.7,464.8 929.1,465.6 940.3,466.1 951.6,466.1 962.8,465.6 974.1,464.8 985.4,464.8 996.6,464.8 1005.0,465.2 1019.2,465.6 1030.4,465.2 1041.7,464.8 1053.0,465.6 1064.2,468.3 1075.5,470.4 1086.8,472.4 1098.0,474.5 1109.3,477.0 1120.6,479.0 1131.8,480.3 1143.1,482.3 1154.5,482.7 1165.6,481.7 1176.9,478.6 1188.1,474.5 1199.4,472.0 1210.7,470.0 1221.9,468.3 1233.2,466.7 1244.5,466.7 1255.7,466.7 1267.0,466.7 1278.3,467.3 1289.5,467.9 1300.8,468.7 1312.2,468.3 1323.3,468.3 1334.6,468.3 1346.0,468.7 1357.1,469.3 1368.4,469.3 1379.8,470.0"/>
<polyline fill="none" stroke="#e6d21e" stroke-width="1.2" points="0.9,485.0 18.0,489.5 36.0,493.1 54.0,495.8 72.0,497.6 95.4,499.1 117.0,499.8 140.4,499.1 162.0,498.5 180.1,497.3 198.1,495.8 216.1,494.0 241.3,492.2 262.9,490.8 286.3,489.5 306.1,487.7 324.1,485.9 335.0,485.4 345.8,483.6 365.8,481.4 380.0,481.0 399.5,481.4 422.0,482.3 444.5,483.2 467.2,484.1 489.7,484.6 512.2,485.0 546.0,484.6 568.5,484.1 613.5,484.1 636.2,483.2 647.4,482.3 658.7,481.4 669.9,480.5 681.2,478.7 692.5,476.9 703.7,475.6 715.0,475.1 726.2,474.6 737.5,474.2 748.7,474.2 760.0,474.6 771.4,474.6 782.5,473.3 793.9,472.0 805.0,470.6 816.4,469.2 827.7,467.9 838.9,467.0 850.2,466.5 861.4,466.1 872.7,466.1 883.9,466.1 895.2,465.6 906.6,465.6 917.7,465.6 929.1,465.6 940.3,465.7 951.6,465.7 962.8,465.6 974.1,465.2 996.6,465.2 1005.0,465.8 1019.2,465.8 1030.4,465.6 1041.7,465.6 1053.0,465.8 1064.2,466.2 1075.5,467.3 1086.8,468.7 1098.0,470.0 1109.3,471.4 1120.6,472.8 1131.8,474.5 1143.1,476.1 1154.5,477.6 1165.6,478.6 1176.9,478.6 1188.1,477.6 1199.4,476.1 1210.7,474.9 1221.9,473.5 1233.2,472.4 1244.5,471.4 1255.7,470.4 1267.0,469.3 1278.3,469.3 1289.5,469.3 1300.8,469.3 1312.2,468.7 1323.3,468.3 1334.6,468.3 1346.0,468.3 1357.1,468.7 1368.4,468.7 1379.8,469.3"/>
<line x1="0" x2="1732" y1="563.5" y2="563.5" stroke="#6e737b" stroke-width="1" stroke-dasharray="5.5 4.5"/>
<line x1="0" x2="1732" y1="597.5" y2="597.5" stroke="#6e737b" stroke-width="1" stroke-dasharray="5.5 4.5"/>
<line x1="0" x2="1732" y1="630.5" y2="630.5" stroke="#6e737b" stroke-width="1" stroke-dasharray="5.5 4.5"/>
<polyline fill="none" stroke="#e6d21e" stroke-width="1.2" stroke-linejoin="round" points="0.0,627.2 5.3,628.8 16.6,632.1 27.8,634.5 39.1,635.7 50.4,635.3 61.6,634.1 72.9,632.8 84.2,629.2 95.4,624.9 106.7,620.1 117.9,612.4 129.2,606.0 140.5,600.4 151.7,599.2 163.0,602.4 174.3,604.5 185.5,599.2 196.8,590.8 208.1,583.6 219.3,577.6 230.6,577.1 241.9,578.3 253.1,577.6 264.4,577.1 275.7,580.5 286.9,586.5 298.2,587.2 309.5,584.4 320.7,580.5 332.0,576.4 343.3,573.3 354.5,569.7 365.8,569.2 377.0,571.1 388.3,580.0 399.6,590.4 410.8,601.2 422.1,606.9 433.4,611.2 444.6,613.2 455.9,615.3 467.2,614.1 478.4,613.2 489.7,607.6 501.0,602.4 512.2,597.3 523.5,594.4 534.8,591.3 546.0,586.8 557.3,582.4 568.5,578.3 579.8,576.4 591.1,577.6 602.3,583.6 613.6,589.2 624.9,591.3 636.1,592.5 647.4,587.2 658.7,582.4 669.9,577.6 681.2,574.0 692.5,569.7 703.7,566.3 715.0,567.3 726.3,571.1 737.5,576.4 748.8,586.0 760.1,595.6 771.3,600.4 782.6,597.6 793.9,594.0 805.1,589.2 816.4,584.4 827.6,581.2 838.9,579.3 850.2,578.1 861.4,578.8 872.7,580.7 884.0,586.0 895.2,587.2 906.5,587.1 917.8,588.4 929.0,589.4 940.3,592.3 951.6,592.3 962.8,590.2 974.1,584.5 985.4,579.0 996.6,576.4 1007.9,575.3 1019.2,574.5 1030.4,574.0 1041.7,571.2 1052.9,571.4 1064.2,579.2 1075.5,589.4 1086.7,599.9 1098.0,609.3 1109.3,615.8 1120.5,622.0 1131.8,626.7 1143.1,630.1 1154.3,632.5 1165.6,627.3 1176.9,615.8 1188.1,604.0 1199.4,593.6 1210.7,583.7 1221.9,576.6 1233.2,571.4 1244.5,569.3 1255.7,570.1 1267.0,572.5 1278.2,578.5 1289.5,586.3 1300.8,595.4 1312.0,598.6 1323.3,599.9 1334.6,598.0 1345.8,595.9 1357.1,594.1 1368.4,592.0 1379.6,591.0"/>
<polyline fill="none" stroke="#c8c8c8" stroke-width="1.2" stroke-linejoin="round" points="0.0,633.3 5.3,635.3 16.6,639.3 27.8,639.3 39.1,636.5 50.4,635.3 61.6,630.9 72.9,630.0 84.2,622.0 95.4,616.0 106.7,611.2 117.9,596.4 129.2,593.2 140.5,589.6 151.7,598.8 163.0,608.4 174.3,606.0 185.5,589.2 196.8,575.7 208.1,568.5 219.3,566.3 230.6,576.4 241.9,581.2 253.1,575.7 264.4,576.4 275.7,587.2 286.9,598.5 298.2,589.2 309.5,578.3 320.7,572.3 332.0,569.2 343.3,566.3 354.5,562.5 365.8,568.0 377.0,574.5 388.3,599.2 399.6,610.0 410.8,622.5 422.1,621.6 433.4,617.7 444.6,616.5 455.9,619.6 467.2,613.6 478.4,610.8 489.7,599.2 501.0,590.8 512.2,585.3 523.5,589.6 534.8,586.0 546.0,578.3 557.3,572.3 568.5,571.6 579.8,570.4 591.1,581.2 602.3,596.8 613.6,599.7 624.9,596.8 636.1,593.2 647.4,577.6 658.7,571.6 669.9,567.5 681.2,565.6 692.5,560.3 703.7,560.3 715.0,569.9 726.3,578.3 737.5,587.2 748.8,604.0 760.1,614.4 771.3,609.3 782.6,593.2 793.9,586.0 805.1,580.0 816.4,575.2 827.6,575.2 838.9,575.7 850.2,577.1 861.4,580.0 872.7,585.3 884.0,597.3 895.2,590.8 906.5,585.5 917.8,590.2 929.0,591.5 940.3,598.6 951.6,592.0 962.8,586.3 974.1,573.2 985.4,568.0 996.6,570.6 1007.9,573.2 1019.2,572.5 1030.4,573.2 1041.7,564.1 1052.9,572.7 1064.2,596.7 1075.5,609.8 1086.7,620.7 1098.0,628.0 1109.3,630.1 1120.5,635.1 1131.8,635.3 1143.1,637.2 1154.3,636.4 1165.6,616.3 1176.9,592.8 1188.1,580.5 1199.4,571.9 1210.7,565.4 1221.9,562.3 1233.2,560.2 1244.5,565.9 1255.7,571.4 1267.0,575.8 1278.2,592.0 1289.5,601.9 1300.8,614.5 1312.0,605.9 1323.3,601.2 1334.6,595.4 1345.8,591.5 1357.1,591.5 1368.4,587.1 1379.6,590.2"/>
<polyline fill="none" stroke="#d63fb4" stroke-width="1.2" stroke-linejoin="round" points="0.0,651.8 5.3,652.1 16.6,652.5 27.8,649.2 39.1,639.6 50.4,635.3 61.6,626.4 72.9,626.4 84.2,607.6 95.4,597.3 106.7,592.5 117.9,564.4 129.2,569.7 140.5,568.5 151.7,595.6 163.0,620.4 174.3,612.4 185.5,570.9 196.8,544.5 208.1,538.5 219.3,542.8 230.6,576.4 241.9,585.3 253.1,571.6 264.4,572.8 275.7,604.0 286.9,622.0 298.2,592.0 309.5,565.6 320.7,555.5 332.0,553.1 343.3,553.1 354.5,548.3 365.8,568.0 377.0,582.4 388.3,637.7 399.6,646.8 410.8,666.5 422.1,648.5 433.4,631.6 444.6,624.4 455.9,627.3 467.2,612.4 478.4,604.8 489.7,582.4 501.0,569.2 512.2,561.3 523.5,580.0 534.8,574.0 546.0,561.3 557.3,552.4 568.5,557.2 579.8,560.3 591.1,587.2 602.3,621.3 613.6,621.3 624.9,606.9 636.1,595.6 647.4,558.4 658.7,550.5 669.9,548.3 681.2,550.5 692.5,544.5 703.7,549.5 715.0,575.2 726.3,592.5 737.5,610.0 748.8,642.5 760.1,653.3 771.3,626.8 782.6,583.6 793.9,572.3 805.1,561.3 816.4,556.5 827.6,562.7 838.9,568.0 850.2,573.5 861.4,581.9 872.7,593.2 884.0,618.4 895.2,595.6 906.5,584.5 917.8,594.1 929.0,596.7 940.3,609.3 951.6,594.1 962.8,580.5 974.1,549.2 985.4,547.1 996.6,558.1 1007.9,569.3 1019.2,569.3 1030.4,571.4 1041.7,552.4 1052.9,573.2 1064.2,626.7 1075.5,648.9 1086.7,663.8 1098.0,666.4 1109.3,659.4 1120.5,660.1 1131.8,652.3 1143.1,651.0 1154.3,644.2 1165.6,588.9 1176.9,547.7 1188.1,533.6 1199.4,528.4 1210.7,527.1 1221.9,533.3 1233.2,538.5 1244.5,558.9 1255.7,573.2 1267.0,583.7 1278.2,619.7 1289.5,633.3 1300.8,651.5 1312.0,617.6 1323.3,605.1 1334.6,589.4 1345.8,582.4 1357.1,585.5 1368.4,578.5 1379.6,588.4"/>
<rect x="1" y="698.3" width="9" height="30.5" fill="#2aa783"/>
<rect x="12" y="702.4" width="9" height="26.4" fill="#2aa783"/>
<rect x="23" y="709.6" width="9" height="19.2" fill="#2aa783"/>
<rect x="35.5" y="724.0" width="8" height="4.3" fill="none" stroke="#d93f3f" stroke-width="1"/>
<rect x="46" y="722.3" width="9" height="6.5" fill="#2aa783"/>
<rect x="57.5" y="725.0" width="8" height="3.3" fill="none" stroke="#d93f3f" stroke-width="1"/>
<rect x="68" y="724.0" width="9" height="4.8" fill="#2aa783"/>
<rect x="80.5" y="717.3" width="8" height="11.0" fill="none" stroke="#d93f3f" stroke-width="1"/>
<rect x="91" y="724.0" width="9" height="4.8" fill="#2aa783"/>
<rect x="102" y="722.3" width="9" height="6.5" fill="#2aa783"/>
<rect x="113.5" y="722.8" width="8" height="5.5" fill="none" stroke="#d93f3f" stroke-width="1"/>
<rect x="125" y="724.0" width="9" height="4.8" fill="#2aa783"/>
<rect x="136.5" y="724.0" width="8" height="4.3" fill="none" stroke="#d93f3f" stroke-width="1"/>
<rect x="147" y="721.1" width="9" height="7.7" fill="#2aa783"/>
<rect x="159" y="722.8" width="9" height="6.0" fill="#2aa783"/>
<rect x="170" y="707.9" width="9" height="20.9" fill="#2aa783"/>
<rect x="181.5" y="710.1" width="8" height="18.2" fill="none" stroke="#d93f3f" stroke-width="1"/>
<rect x="192.5" y="717.3" width="8" height="11.0" fill="none" stroke="#d93f3f" stroke-width="1"/>
<rect x="204.5" y="718.0" width="8" height="10.3" fill="none" stroke="#d93f3f" stroke-width="1"/>
<rect x="215" y="710.3" width="9" height="18.5" fill="#2aa783"/>
<rect x="226" y="716.8" width="9" height="12.0" fill="#2aa783"/>
<rect x="237.5" y="724.0" width="8" height="4.3" fill="none" stroke="#d93f3f" stroke-width="1"/>
<rect x="249.5" y="714.9" width="8" height="13.4" fill="none" stroke="#d93f3f" stroke-width="1"/>
<rect x="260" y="718.0" width="9" height="10.8" fill="#2aa783"/>
<rect x="271" y="710.3" width="9" height="18.5" fill="#2aa783"/>
<rect x="282.5" y="708.2" width="8" height="20.1" fill="none" stroke="#d93f3f" stroke-width="1"/>
<rect x="294.5" y="712.0" width="8" height="16.3" fill="none" stroke="#d93f3f" stroke-width="1"/>
<rect x="305.5" y="722.8" width="8" height="5.5" fill="none" stroke="#d93f3f" stroke-width="1"/>
<rect x="316" y="719.9" width="9" height="8.9" fill="#2aa783"/>
<rect x="327.5" y="713.2" width="8" height="15.1" fill="none" stroke="#d93f3f" stroke-width="1"/>
<rect x="339.5" y="718.5" width="8" height="9.8" fill="none" stroke="#d93f3f" stroke-width="1"/>
<rect x="350.5" y="711.3" width="8" height="17.0" fill="none" stroke="#d93f3f" stroke-width="1"/>
<rect x="361" y="716.8" width="9" height="12.0" fill="#2aa783"/>
<rect x="373" y="723.3" width="9" height="5.5" fill="#2aa783"/>
<rect x="384" y="707.2" width="9" height="21.6" fill="#2aa783"/>
<rect x="395.5" y="718.5" width="8" height="9.8" fill="none" stroke="#d93f3f" stroke-width="1"/>
<rect x="406" y="716.8" width="9" height="12.0" fill="#2aa783"/>
<rect x="418.5" y="707.0" width="8" height="21.3" fill="none" stroke="#d93f3f" stroke-width="1"/>
<rect x="429.5" y="716.6" width="8" height="11.7" fill="none" stroke="#d93f3f" stroke-width="1"/>
<rect x="440" y="724.0" width="9" height="4.8" fill="#2aa783"/>
<rect x="451" y="719.7" width="9" height="9.1" fill="#2aa783"/>
<rect x="463.5" y="721.9" width="8" height="6.4" fill="none" stroke="#d93f3f" stroke-width="1"/>
<rect x="474" y="721.4" width="9" height="7.4" fill="#2aa783"/>
<rect x="485" y="718.5" width="9" height="10.3" fill="#2aa783"/>
<rect x="496.5" y="726.2" width="8" height="2.1" fill="none" stroke="#d93f3f" stroke-width="1"/>
<rect x="508.5" y="727.2" width="8" height="1.1" fill="none" stroke="#d93f3f" stroke-width="1"/>
<rect x="519" y="726.9" width="9" height="1.9" fill="#2aa783"/>
<rect x="530.5" y="726.7" width="8" height="1.6" fill="none" stroke="#d93f3f" stroke-width="1"/>
<rect x="542.5" y="725.5" width="8" height="2.8" fill="none" stroke="#d93f3f" stroke-width="1"/>
<rect x="553.5" y="721.9" width="8" height="6.4" fill="none" stroke="#d93f3f" stroke-width="1"/>
<rect x="564" y="723.8" width="9" height="5.0" fill="#2aa783"/>
<rect x="575.5" y="727.2" width="8" height="1.1" fill="none" stroke="#d93f3f" stroke-width="1"/>
<rect x="587" y="725.0" width="9" height="3.8" fill="#2aa783"/>
<rect x="598" y="722.1" width="9" height="6.7" fill="#2aa783"/>
<rect x="609.5" y="726.2" width="8" height="2.1" fill="none" stroke="#d93f3f" stroke-width="1"/>
<rect x="620.5" y="715.9" width="8" height="12.4" fill="none" stroke="#d93f3f" stroke-width="1"/>
<rect x="632.5" y="723.1" width="8" height="5.2" fill="none" stroke="#d93f3f" stroke-width="1"/>
<rect x="643.5" y="711.1" width="8" height="17.2" fill="none" stroke="#d93f3f" stroke-width="1"/>
<rect x="654.5" y="714.2" width="8" height="14.1" fill="none" stroke="#d93f3f" stroke-width="1"/>
<rect x="665" y="720.9" width="9" height="7.9" fill="#2aa783"/>
<rect x="677.5" y="714.2" width="8" height="14.1" fill="none" stroke="#d93f3f" stroke-width="1"/>
<rect x="688.5" y="715.4" width="8" height="12.9" fill="none" stroke="#d93f3f" stroke-width="1"/>
<rect x="699" y="716.6" width="9" height="12.2" fill="#2aa783"/>
<rect x="710" y="717.3" width="9" height="11.5" fill="#2aa783"/>
<rect x="722" y="720.2" width="9" height="8.6" fill="#2aa783"/>
<rect x="733" y="723.1" width="9" height="5.7" fill="#2aa783"/>
<rect x="744" y="714.2" width="9" height="14.6" fill="#2aa783"/>
<rect x="756" y="711.1" width="9" height="17.7" fill="#2aa783"/>
<rect x="767.5" y="717.8" width="8" height="10.5" fill="none" stroke="#d93f3f" stroke-width="1"/>
<rect x="778.5" y="691.9" width="8" height="36.4" fill="none" stroke="#d93f3f" stroke-width="1"/>
<rect x="789" y="719.0" width="9" height="9.8" fill="#2aa783"/>
<rect x="801.5" y="721.9" width="8" height="6.4" fill="none" stroke="#d93f3f" stroke-width="1"/>
<rect x="812.5" y="721.9" width="8" height="6.4" fill="none" stroke="#d93f3f" stroke-width="1"/>
<rect x="823" y="698.1" width="9" height="30.7" fill="#2aa783"/>
<rect x="834.5" y="717.8" width="8" height="10.5" fill="none" stroke="#d93f3f" stroke-width="1"/>
<rect x="846" y="722.1" width="9" height="6.7" fill="#2aa783"/>
<rect x="857" y="719.0" width="9" height="9.8" fill="#2aa783"/>
<rect x="868" y="723.1" width="9" height="5.7" fill="#2aa783"/>
<rect x="879.5" y="720.7" width="8" height="7.6" fill="none" stroke="#d93f3f" stroke-width="1"/>
<rect x="891.5" y="706.3" width="8" height="22.0" fill="none" stroke="#d93f3f" stroke-width="1"/>
<rect x="902" y="709.9" width="9" height="18.9" fill="#2aa783"/>
<rect x="913" y="714.3" width="9" height="14.5" fill="#2aa783"/>
<rect x="925.5" y="722.1" width="8" height="6.2" fill="none" stroke="#d93f3f" stroke-width="1"/>
<rect x="936" y="721.4" width="9" height="7.4" fill="#2aa783"/>
<rect x="947.5" y="720.8" width="8" height="7.5" fill="none" stroke="#d93f3f" stroke-width="1"/>
<rect x="958.5" y="704.9" width="8" height="23.4" fill="none" stroke="#d93f3f" stroke-width="1"/>
<rect x="970.5" y="720.0" width="8" height="8.3" fill="none" stroke="#d93f3f" stroke-width="1"/>
<rect x="981" y="720.3" width="9" height="8.5" fill="#2aa783"/>
<rect x="992" y="724.2" width="9" height="4.6" fill="#2aa783"/>
<rect x="1003" y="725.3" width="9" height="3.5" fill="#2aa783"/>
<rect x="1015.5" y="726.0" width="8" height="2.3" fill="none" stroke="#d93f3f" stroke-width="1"/>
<rect x="1026" y="722.1" width="9" height="6.7" fill="#2aa783"/>
<rect x="1037.5" y="716.9" width="8" height="11.4" fill="none" stroke="#d93f3f" stroke-width="1"/>
<rect x="1048" y="722.1" width="9" height="6.7" fill="#2aa783"/>
<rect x="1060" y="709.9" width="9" height="18.9" fill="#2aa783"/>
<rect x="1071.5" y="724.7" width="8" height="3.6" fill="none" stroke="#d93f3f" stroke-width="1"/>
<rect x="1082" y="722.9" width="9" height="5.9" fill="#2aa783"/>
<rect x="1094" y="715.1" width="9" height="13.7" fill="#2aa783"/>
<rect x="1105.5" y="724.7" width="8" height="3.6" fill="none" stroke="#d93f3f" stroke-width="1"/>
<rect x="1116" y="716.1" width="9" height="12.7" fill="#2aa783"/>
<rect x="1127.5" y="723.4" width="8" height="4.9" fill="none" stroke="#d93f3f" stroke-width="1"/>
<rect x="1139" y="722.9" width="9" height="5.9" fill="#2aa783"/>
<rect x="1150.5" y="723.9" width="8" height="4.4" fill="none" stroke="#d93f3f" stroke-width="1"/>
<rect x="1161.5" y="701.8" width="8" height="26.5" fill="none" stroke="#d93f3f" stroke-width="1"/>
<rect x="1172.5" y="709.6" width="8" height="18.7" fill="none" stroke="#d93f3f" stroke-width="1"/>
<rect x="1184.5" y="707.0" width="8" height="21.3" fill="none" stroke="#d93f3f" stroke-width="1"/>
<rect x="1195.5" y="720.8" width="8" height="7.5" fill="none" stroke="#d93f3f" stroke-width="1"/>
<rect x="1206.5" y="720.8" width="8" height="7.5" fill="none" stroke="#d93f3f" stroke-width="1"/>
<rect x="1217" y="721.4" width="9" height="7.4" fill="#2aa783"/>
<rect x="1229.5" y="699.9" width="8" height="28.4" fill="none" stroke="#d93f3f" stroke-width="1"/>
<rect x="1240" y="712.2" width="9" height="16.6" fill="#2aa783"/>
<rect x="1251" y="721.4" width="9" height="7.4" fill="#2aa783"/>
<rect x="1262.5" y="718.7" width="8" height="9.6" fill="none" stroke="#d93f3f" stroke-width="1"/>
<rect x="1274" y="718.2" width="9" height="10.6" fill="#2aa783"/>
<rect x="1285.5" y="720.0" width="8" height="8.3" fill="none" stroke="#d93f3f" stroke-width="1"/>
<rect x="1296" y="709.9" width="9" height="18.9" fill="#2aa783"/>
<rect x="1308.5" y="717.4" width="8" height="10.9" fill="none" stroke="#d93f3f" stroke-width="1"/>
<rect x="1319" y="718.2" width="9" height="10.6" fill="#2aa783"/>
<rect x="1330.5" y="720.8" width="8" height="7.5" fill="none" stroke="#d93f3f" stroke-width="1"/>
<rect x="1341" y="722.1" width="9" height="6.7" fill="#2aa783"/>
<rect x="1353" y="717.7" width="9" height="11.1" fill="#2aa783"/>
<rect x="1364.5" y="701.0" width="8" height="27.3" fill="none" stroke="#d93f3f" stroke-width="1"/>
<rect x="1375" y="724.2" width="9" height="4.6" fill="#2aa783"/>
<polyline fill="none" stroke="#d0d0d0" stroke-width="1.2" points="1.2,715.6 24.0,712.0 48.0,716.8 72.0,721.6 96.0,722.3 120.0,722.8 144.1,722.8 168.1,721.1 182.5,716.8 204.1,715.6 219.7,712.7 240.1,716.8 264.1,715.6 283.3,713.9 297.7,712.0 312.1,713.7 336.1,714.4 360.1,715.6 384.2,715.1 408.2,717.5 432.2,713.2 444.2,716.8 450.0,717.8 466.8,717.3 478.8,720.9 498.0,720.9 522.0,722.6 546.0,726.2 570.0,724.3 594.1,724.3 613.3,724.3 622.9,722.6 637.3,722.6 649.3,719.0 666.1,716.6 690.1,714.7 714.1,716.6 738.1,717.8 757.3,717.8 771.7,717.3 782.5,711.8 793.3,710.6 814.9,714.2 827.0,710.6 839.0,714.2 858.2,716.1 872.6,716.6 883.4,720.2 894.2,719.0 900.0,716.9 915.7,714.3 939.1,714.3 952.2,717.7 962.6,716.4 996.6,716.9 1014.8,722.1 1030.5,723.4 1054.0,722.1 1067.0,718.2 1077.5,718.2 1087.9,719.5 1150.5,720.3 1155.7,722.1 1166.2,716.9 1176.6,716.9 1187.1,712.2 1200.1,712.2 1210.5,711.2 1221.0,715.6 1231.4,713.8 1244.5,713.8 1254.9,715.6 1265.3,715.6 1278.4,715.1 1288.8,718.2 1299.3,718.2 1312.3,716.9 1333.2,716.9 1343.6,718.2 1356.7,719.0 1369.7,715.1 1379.6,716.9"/>
<polyline fill="none" stroke="#e6d21e" stroke-width="1.2" points="1.2,715.6 24.0,712.7 48.0,713.2 72.0,715.1 96.0,716.8 120.0,720.4 144.1,722.3 168.1,721.6 192.1,718.0 216.1,718.0 240.1,717.5 264.1,716.8 288.1,714.4 312.1,714.4 336.1,715.1 360.1,715.1 384.2,715.6 408.2,716.8 432.2,715.1 450.0,716.6 478.8,718.5 489.6,717.3 510.0,720.2 546.0,723.3 582.1,724.3 606.1,725.0 630.1,722.6 654.1,720.9 678.1,719.0 702.1,717.3 726.1,716.6 750.1,716.6 774.1,716.6 786.1,714.2 810.1,714.2 834.2,713.7 858.2,713.7 882.2,715.4 894.2,716.6 900.0,717.7 915.7,715.1 939.1,716.4 952.2,718.2 962.6,716.4 983.5,715.6 996.6,716.4 1014.8,719.5 1030.5,720.3 1046.1,719.5 1061.8,718.2 1082.7,719.5 1108.8,720.3 1134.9,720.3 1155.7,720.3 1166.2,718.2 1187.1,716.4 1221.0,716.4 1231.4,714.3 1265.3,713.8 1291.4,715.6 1317.5,716.4 1333.2,715.6 1343.6,717.7 1356.7,718.2 1369.7,715.6 1379.6,716.9"/>
</g>
<line x1="1733" x2="1738" y1="436.5" y2="436.5" stroke="#3a3d44"/>
<text x="1764.0" y="440.0" fill="#8c96ad" font-size="12" text-anchor="middle">64000.0</text>
<line x1="1733" x2="1738" y1="405.5" y2="405.5" stroke="#3a3d44"/>
<text x="1764.0" y="409.1" fill="#8c96ad" font-size="12" text-anchor="middle">65000.0</text>
<line x1="1733" x2="1738" y1="374.5" y2="374.5" stroke="#3a3d44"/>
<text x="1764.0" y="378.2" fill="#8c96ad" font-size="12" text-anchor="middle">66000.0</text>
<line x1="1733" x2="1738" y1="343.5" y2="343.5" stroke="#3a3d44"/>
<text x="1764.0" y="347.2" fill="#8c96ad" font-size="12" text-anchor="middle">67000.0</text>
<line x1="1733" x2="1738" y1="312.5" y2="312.5" stroke="#3a3d44"/>
<text x="1764.0" y="316.3" fill="#8c96ad" font-size="12" text-anchor="middle">68000.0</text>
<line x1="1733" x2="1738" y1="281.5" y2="281.5" stroke="#3a3d44"/>
<text x="1764.0" y="285.4" fill="#8c96ad" font-size="12" text-anchor="middle">69000.0</text>
<line x1="1733" x2="1738" y1="250.5" y2="250.5" stroke="#3a3d44"/>
<text x="1764.0" y="254.5" fill="#8c96ad" font-size="12" text-anchor="middle">70000.0</text>
<line x1="1733" x2="1738" y1="219.5" y2="219.5" stroke="#3a3d44"/>
<text x="1764.0" y="223.5" fill="#8c96ad" font-size="12" text-anchor="middle">71000.0</text>
<line x1="1733" x2="1738" y1="188.5" y2="188.5" stroke="#3a3d44"/>
<text x="1764.0" y="192.6" fill="#8c96ad" font-size="12" text-anchor="middle">72000.0</text>
<line x1="1733" x2="1738" y1="157.5" y2="157.5" stroke="#3a3d44"/>
<text x="1764.0" y="161.7" fill="#8c96ad" font-size="12" text-anchor="middle">73000.0</text>
<line x1="1733" x2="1738" y1="126.5" y2="126.5" stroke="#3a3d44"/>
<text x="1764.0" y="130.8" fill="#8c96ad" font-size="12" text-anchor="middle">74000.0</text>
<line x1="1733" x2="1738" y1="95.5" y2="95.5" stroke="#3a3d44"/>
<text x="1764.0" y="99.8" fill="#8c96ad" font-size="12" text-anchor="middle">75000.0</text>
<line x1="1733" x2="1738" y1="64.5" y2="64.5" stroke="#3a3d44"/>
<text x="1764.0" y="68.9" fill="#8c96ad" font-size="12" text-anchor="middle">76000.0</text>
<line x1="1733" x2="1738" y1="34.5" y2="34.5" stroke="#3a3d44"/>
<text x="1764.0" y="38.0" fill="#8c96ad" font-size="12" text-anchor="middle">77000.0</text>
<line x1="1733" x2="1738" y1="482.5" y2="482.5" stroke="#3a3d44"/>
<text x="1764.0" y="486.0" fill="#8c96ad" font-size="12" text-anchor="middle">0.0</text>
<line x1="1733" x2="1738" y1="541.5" y2="541.5" stroke="#3a3d44"/>
<text x="1764.0" y="545.5" fill="#8c96ad" font-size="12" text-anchor="middle">100.00</text>
<line x1="1733" x2="1738" y1="597.5" y2="597.5" stroke="#3a3d44"/>
<text x="1764.0" y="601.5" fill="#8c96ad" font-size="12" text-anchor="middle">50.00</text>
<line x1="1733" x2="1738" y1="653.5" y2="653.5" stroke="#3a3d44"/>
<text x="1764.0" y="657.5" fill="#8c96ad" font-size="12" text-anchor="middle">0.00</text>
<rect x="1732" y="107.3" width="64" height="19.5" fill="#4cbe22"/>
<line x1="1733" x2="1738" y1="117.5" y2="117.5" stroke="#fff"/>
<text x="1765.0" y="121.2" fill="#fff" font-size="12" font-weight="bold" text-anchor="middle">74314.9</text>
<rect x="1732" y="714" width="63" height="19" fill="#d48b13"/>
<line x1="1733" x2="1738" y1="723.5" y2="723.5" stroke="#fff"/>
<text x="1765.0" y="727.5" fill="#fff" font-size="12" text-anchor="middle">2.7k</text>
<text x="162.0" y="747.5" fill="#8c96ad" font-size="12" text-anchor="middle">3月 30</text>
<text x="297.2" y="747.5" fill="#8c96ad" font-size="12" text-anchor="middle">4月 1</text>
<text x="432.4" y="747.5" fill="#8c96ad" font-size="12" text-anchor="middle">4月 3</text>
<text x="567.5" y="747.5" fill="#8c96ad" font-size="12" text-anchor="middle">4月 5</text>
<text x="702.7" y="747.5" fill="#8c96ad" font-size="12" text-anchor="middle">4月 7</text>
<text x="837.9" y="747.5" fill="#8c96ad" font-size="12" text-anchor="middle">4月 9</text>
<text x="973.1" y="747.5" fill="#8c96ad" font-size="12" text-anchor="middle">4月 11</text>
<text x="1108.3" y="747.5" fill="#8c96ad" font-size="12" text-anchor="middle">4月 13</text>
<text x="1243.5" y="747.5" fill="#8c96ad" font-size="12" text-anchor="middle">4月 15</text>
<text x="1378.6" y="747.5" fill="#8c96ad" font-size="12" text-anchor="middle">4月 17</text>
<text x="1513.8" y="747.5" fill="#8c96ad" font-size="12" text-anchor="middle">4月 19</text>
<text x="1649.0" y="747.5" fill="#8c96ad" font-size="12" text-anchor="middle">4月 21</text>
<text x="1763.0" y="747.5" fill="#8c96ad" font-size="12" text-anchor="middle">筹</text>
<text x="1786.0" y="747.5" fill="#8c96ad" font-size="12" text-anchor="middle">爆</text>
</svg>
<svg class="b" style="left:82px;top:145px" width="14" height="14" viewBox="0 0 14 14" fill="none"><circle cx="7" cy="7" r="6.300" stroke="#70747d" stroke-width="1"/><path d="M4 5.800l3 3 3-3" stroke="#70747d" stroke-width="1"/></svg>
<svg class="b" style="left:82px;top:164px" width="14" height="14" viewBox="0 0 14 14" fill="none"><circle cx="7" cy="7" r="6.300" stroke="#70747d" stroke-width="1"/><path d="M5.800 4l3 3-3 3" stroke="#70747d" stroke-width="1"/></svg>
<span class="t" style="left:103px;top:144px;font-size:12px;line-height:16px;color:#8b8f99;transform-origin:0 50%;transform:scaleX(0.964);">BTC/USDT永续</span>
<span class="t" style="left:190px;top:144px;font-size:12px;line-height:16px;color:#8b8f99;transform-origin:0 50%;transform:scaleX(0.982);">2026-04-17 00:00</span>
<span class="t" style="left:289px;top:144px;font-size:12px;line-height:16px;color:#8b8f99;transform-origin:0 50%;transform:scaleX(0.917);">开</span>
<span class="t" style="left:304px;top:144px;font-size:12px;line-height:16px;color:#2ea87e;transform-origin:0 50%;transform:scaleX(0.998);">74659.4</span>
<span class="t" style="left:353px;top:144px;font-size:12px;line-height:16px;color:#8b8f99;transform-origin:0 50%;transform:scaleX(1.000);">高</span>
<span class="t" style="left:368px;top:144px;font-size:12px;line-height:16px;color:#2ea87e;transform-origin:0 50%;transform:scaleX(1.014);">74900.0</span>
<span class="t" style="left:418px;top:144px;font-size:12px;line-height:16px;color:#8b8f99;transform-origin:0 50%;transform:scaleX(1.000);">低</span>
<span class="t" style="left:433px;top:144px;font-size:12px;line-height:16px;color:#2ea87e;transform-origin:0 50%;transform:scaleX(1.003);">74173.4</span>
<span class="t" style="left:482px;top:144px;font-size:12px;line-height:16px;color:#8b8f99;transform-origin:0 50%;transform:scaleX(0.975);">收</span>
<span class="t" style="left:497px;top:144px;font-size:12px;line-height:16px;color:#2ea87e;transform-origin:0 50%;transform:scaleX(1.014);">74314.9</span>
<span class="t" style="left:546px;top:144px;font-size:12px;line-height:16px;color:#8b8f99;transform-origin:0 50%;transform:scaleX(1.000);">涨幅</span>
<span class="t" style="left:573px;top:144px;font-size:12px;line-height:16px;color:#2ea87e;transform-origin:0 50%;transform:scaleX(0.974);">-0.46%(-344.5)</span>
<span class="t" style="left:657px;top:144px;font-size:12px;line-height:16px;color:#8b8f99;transform-origin:0 50%;transform:scaleX(1.000);">振幅</span>
<span class="t" style="left:684px;top:144px;font-size:12px;line-height:16px;color:#2ea87e;transform-origin:0 50%;transform:scaleX(0.940);">0.97%</span>
<svg class="b" style="left:82px;top:587px" width="14" height="14" viewBox="0 0 14 14" fill="none"><circle cx="7" cy="7" r="6.300" stroke="#70747d" stroke-width="1"/><path d="M4 5.800l3 3 3-3" stroke="#70747d" stroke-width="1"/></svg>
<svg class="b" style="left:103px;top:588px" width="12" height="12" viewBox="0 0 12 12" fill="none"><path d="M2 9.500h8c-1-1-1.200-1.800-1.200-3V5a2.800 2.800 0 0 0-5.600 0v1.500c0 1.200-.2 2-1.200 3z" stroke="#70747d" stroke-width="1"/><path d="M5 11h2" stroke="#70747d" stroke-width="1"/></svg>
<span class="t" style="left:117px;top:586px;font-size:12px;line-height:16px;color:#70778a;transform-origin:0 50%;transform:scaleX(0.966);">MACD(12,26,9)</span>
<span class="t" style="left:203px;top:586px;font-size:12px;line-height:16px;color:#d5d8dd;font-weight:bold;transform-origin:0 50%;transform:scaleX(0.965);">DIF:615.2</span>
<span class="t" style="left:260px;top:586px;font-size:12px;line-height:16px;color:#e6d21e;font-weight:bold;transform-origin:0 50%;transform:scaleX(0.943);">DEA:683.7</span>
<span class="t" style="left:322px;top:586px;font-size:12px;line-height:16px;color:#2ea87e;transform-origin:0 50%;transform:scaleX(0.963);">MACD:-137.0</span>
<svg class="b" style="left:82px;top:651px" width="14" height="14" viewBox="0 0 14 14" fill="none"><circle cx="7" cy="7" r="6.300" stroke="#70747d" stroke-width="1"/><path d="M4 5.800l3 3 3-3" stroke="#70747d" stroke-width="1"/></svg>
<svg class="b" style="left:103px;top:652px" width="12" height="12" viewBox="0 0 12 12" fill="none"><path d="M2 9.500h8c-1-1-1.200-1.800-1.200-3V5a2.800 2.800 0 0 0-5.600 0v1.500c0 1.200-.2 2-1.200 3z" stroke="#70747d" stroke-width="1"/><path d="M5 11h2" stroke="#70747d" stroke-width="1"/></svg>
<span class="t" style="left:117px;top:650px;font-size:12px;line-height:16px;color:#70778a;transform-origin:0 50%;transform:scaleX(0.959);">KDJ(9,3,3)</span>
<span class="t" style="left:178px;top:650px;font-size:12px;line-height:16px;color:#d5d8dd;font-weight:bold;transform-origin:0 50%;transform:scaleX(0.937);">K:55.91</span>
<span class="t" style="left:225px;top:650px;font-size:12px;line-height:16px;color:#e6d21e;font-weight:bold;transform-origin:0 50%;transform:scaleX(0.948);">D:54.97</span>
<span class="t" style="left:272px;top:650px;font-size:12px;line-height:16px;color:#d63fb4;transform-origin:0 50%;transform:scaleX(0.990);">J:57.78</span>
<svg class="b" style="left:82px;top:815px" width="14" height="14" viewBox="0 0 14 14" fill="none"><circle cx="7" cy="7" r="6.300" stroke="#70747d" stroke-width="1"/><path d="M4 5.800l3 3 3-3" stroke="#70747d" stroke-width="1"/></svg>
<span class="t" style="left:103px;top:814px;font-size:12px;line-height:16px;color:#70778a;transform-origin:0 50%;transform:scaleX(0.999);">Volume</span>
<span class="t" style="left:149px;top:814px;font-size:12px;line-height:16px;color:#70778a;transform-origin:0 50%;transform:scaleX(0.964);">VOLUME:2,739.8494</span>
<span class="t" style="left:265px;top:814px;font-size:12px;line-height:16px;color:#d5d8dd;font-weight:bold;transform-origin:0 50%;transform:scaleX(0.975);">MA(5):8,022.4608</span>
<span class="t" style="left:367px;top:814px;font-size:12px;line-height:16px;color:#e6d21e;font-weight:bold;transform-origin:0 50%;transform:scaleX(0.980);">MA(10):8,094.8713</span>
<svg class="b" style="left:78px;top:843px" width="26" height="22" viewBox="0 0 26 22" fill="none"><g stroke="#000" stroke-opacity="0.55" stroke-width="4.600" stroke-linecap="round"><circle cx="8.300" cy="9.100" r="4.300"/><path d="M12.800 9.300c0 3 .4 4.500 1.600 5.600"/><path d="M21 7.800a3.900 3.900 0 1 0 0 9.600"/></g><g stroke="#fff" stroke-width="2.700" stroke-linecap="round"><circle cx="8.300" cy="9.100" r="4.300"/><path d="M12.800 9.300c0 3 .4 4.500 1.600 5.600"/><path d="M21 7.800a3.900 3.900 0 1 0 0 9.600"/></g><circle cx="17" cy="4.700" r="1.800" fill="#e8381e"/></svg>
<span class="t" style="left:105.3px;top:842.7px;font-size:18px;line-height:23px;color:#fff;font-weight:bold;transform-origin:0 50%;transform:scaleX(0.948);text-shadow:0 0 2px #000,0 0 2px #000,0 0 1px #000;">AiCoin</span>
<div class="b" style="left:1871px;top:36px;width:45px;height:957px;background:#0f1012;"></div>
<div class="b" style="left:1866px;top:142px;width:2px;height:756px;background:#0e0f11;"></div>
<div class="b" style="left:1866px;top:497px;width:4px;height:36px;background:#2e3036;"></div>
<svg class="b" style="left:1866px;top:511px" width="4" height="8" viewBox="0 0 4 8" fill="none"><path d="M3.500 1l-3 3 3 3z" fill="#80838b"/></svg>
<svg class="b" style="left:1883px;top:53px" width="20" height="20" viewBox="0 0 20 20" fill="none"><rect x="2.700" y="2.900" width="4.300" height="5.500" rx="1.200" stroke="#8b8f99" stroke-width="1.400"/><rect x="2.700" y="11.900" width="4.300" height="6" rx="1.200" stroke="#8b8f99" stroke-width="1.400"/><path d="M10.400 4.400h8.600M10.400 10.400h8.600M10.400 16.800h8.600" stroke="#8b8f99" stroke-width="1.400"/></svg>
<svg class="b" style="left:1883px;top:110px" width="20" height="20" viewBox="0 0 20 20" fill="none"><rect x="2.700" y="1.700" width="14.600" height="16.600" rx="1.500" stroke="#8b8f99" stroke-width="1.400"/><path d="M6 6.500h8M6 10h8M6 13.500h5" stroke="#8b8f99" stroke-width="1.400"/></svg>
<svg class="b" style="left:1883px;top:166px" width="20" height="20" viewBox="0 0 20 20" fill="none"><path d="M5 14V3.500A1.500 1.500 0 0 1 6.500 2h10A1.500 1.500 0 0 1 18 3.500v11a1.500 1.500 0 0 1-1.500 1.500H3.500A1.500 1.500 0 0 1 2 14.500V11h3" stroke="#8b8f99" stroke-width="1.400"/><path d="M13.200 6.500c-.5-.8-3-1-3 .6s3.200.8 3.200 2.500-2.700 1.500-3.400.5M11.500 4.500v8" stroke="#8b8f99" stroke-width="1.100"/></svg>
<svg class="b" style="left:1883px;top:222px" width="20" height="20" viewBox="0 0 20 20" fill="none"><path d="M2.700 9.500C8 8.500 12.500 6 16 2.800M12.300 2.300l3.900.3-.4 3.900" stroke="#8b8f99" stroke-width="1.400"/><path d="M4 18v-4.200M7.800 18v-6.400M11.800 18v-8.500M16.100 18V6.300" stroke="#8b8f99" stroke-width="1.500"/></svg>
<svg class="b" style="left:1883px;top:278px" width="20" height="20" viewBox="0 0 20 20" fill="none"><rect x="1.700" y="2.700" width="16.600" height="11.600" rx="1" stroke="#8b8f99" stroke-width="1.400"/><path d="M6.500 11.500V8M10 11.500V5.500M13.500 11.500V7.500M6 17.500h8" stroke="#8b8f99" stroke-width="1.400"/></svg>
<svg class="b" style="left:1883px;top:334px" width="20" height="20" viewBox="0 0 20 20" fill="none"><rect x="1.700" y="5.700" width="14.600" height="10.600" rx="1" stroke="#8b8f99" stroke-width="1.400"/><path d="M4.500 3h14v10.500" stroke="#8b8f99" stroke-width="1.400"/><path d="M4.500 9.500v3.500h2M4.500 11h1.500M4.500 9.500h2M8 9.500h2.500M9.200 9.500V13M12 13V9.500h2M12 11.200h1.500" stroke="#8b8f99" stroke-width="0.900"/></svg>
<svg class="b" style="left:1883px;top:391px" width="20" height="20" viewBox="0 0 20 20" fill="none"><rect x="3" y="7" width="14" height="10" rx="2.500" stroke="#8b8f99" stroke-width="1.400"/><path d="M1 10.500v3.500M19 10.500v3.500" stroke="#8b8f99" stroke-width="1.400"/><circle cx="7.500" cy="12" r="1.200" fill="#8b8f99"/><circle cx="12.500" cy="12" r="1.200" fill="#8b8f99"/><path d="M10 7V4" stroke="#8b8f99" stroke-width="1.400"/><circle cx="10" cy="3" r="1.300" fill="#e8383d"/></svg>
<div class="b" style="left:1871px;top:428px;width:45px;height:1px;background:#24262b;"></div>
<svg class="b" style="left:1883px;top:453px" width="20" height="20" viewBox="0 0 20 20" fill="none"><circle cx="10" cy="10" r="8" stroke="#8b8f99" stroke-width="1.400"/><path d="M5.500 8.500h9l-2.500-2.500M14.500 11.500h-9l2.500 2.500" stroke="#8b8f99" stroke-width="1.400"/></svg>
<svg class="b" style="left:1883px;top:830px" width="20" height="20" viewBox="0 0 20 20" fill="none"><rect x="1.700" y="2.700" width="16.600" height="14.600" rx="1" stroke="#8b8f99" stroke-width="1.400"/><path d="M2 7.500h16M7.500 7.500V17" stroke="#8b8f99" stroke-width="1.400"/></svg>
<svg class="b" style="left:1883px;top:887px" width="20" height="20" viewBox="0 0 20 20" fill="none"><path d="M4 13V9.500a6 6 0 0 1 12 0V13" stroke="#8b8f99" stroke-width="1.400"/><rect x="2.500" y="10" width="3" height="5" rx="1" fill="#8b8f99"/><rect x="14.500" y="10" width="3" height="5" rx="1" fill="#8b8f99"/><path d="M16 15c0 2-2 3-5 3" stroke="#8b8f99" stroke-width="1.400"/></svg>
<svg class="b" style="left:1880px;top:940px" width="28" height="28" viewBox="0 0 28 28" fill="none"><path d="M4 9L3 3l6 3.500M24 9l1-6-6 3.500" fill="#e9ecf2"/><ellipse cx="14" cy="15" rx="12" ry="10" fill="#e9ecf2"/><ellipse cx="14" cy="15.500" rx="8.500" ry="5.500" fill="#1b1d3a"/><circle cx="10.500" cy="15.500" r="2" fill="#fff"/><circle cx="17.500" cy="15.500" r="2" fill="#fff"/><path d="M24 11c2 2 2 6 0 8" stroke="#a34df0" stroke-width="1.500"/></svg>
<div class="b" style="left:70px;top:898px;width:1798px;height:61px;background:#0c0d0f;"></div>
<svg class="b" style="left:87px;top:908px" width="16" height="14" viewBox="0 0 16 14" fill="none"><path d="M1 5V2.500h13v9H6" stroke="#c9ccd2" stroke-width="1.200"/><path d="M4 1v3M11 1v3" stroke="#c9ccd2" stroke-width="1.200"/><path d="M1 9h6M5 6.500L7.500 9 5 11.500" stroke="#c9ccd2" stroke-width="1.200"/></svg>
<span class="t" style="left:110px;top:907px;font-size:12px;line-height:16px;color:#eceef1;font-weight:bold;transform-origin:0 50%;transform:scaleX(1.043);">定位到...</span>
<div class="b" style="left:171px;top:900px;width:1px;height:28px;background:#24262b;"></div>
<span class="t" style="left:191px;top:907px;font-size:12px;line-height:16px;color:#eceef1;font-weight:bold;transform-origin:0 50%;transform:scaleX(1.083);">日期范围</span>
<svg class="b" style="left:247px;top:913px" width="7" height="5" viewBox="0 0 7 5" fill="none"><path d="M1 1l2.500 2.500L6 1" stroke="#6e737d" stroke-width="1"/></svg>
<div class="b" style="left:273px;top:900px;width:1px;height:28px;background:#24262b;"></div>
<span class="t" style="left:294px;top:906.5px;font-size:13px;line-height:17px;color:#6e737d;transform-origin:0 50%;transform:scaleX(1.026);">MA</span>
<span class="t" style="left:342px;top:906.5px;font-size:13px;line-height:17px;color:#6e737d;transform-origin:0 50%;transform:scaleX(0.976);">EMA</span>
<span class="t" style="left:397px;top:906.5px;font-size:13px;line-height:17px;color:#1e86ff;transform-origin:0 50%;transform:scaleX(1.008);">BOLL</span>
<div class="b" style="left:463px;top:900px;width:1px;height:28px;background:#24262b;"></div>
<span class="t" style="left:482px;top:906.5px;font-size:13px;line-height:17px;color:#1e86ff;transform-origin:0 50%;transform:scaleX(0.980);">MACD</span>
<span class="t" style="left:548px;top:906.5px;font-size:13px;line-height:17px;color:#6e737d;transform-origin:0 50%;transform:scaleX(0.877);">RSI</span>
<span class="t" style="left:594px;top:906.5px;font-size:13px;line-height:17px;color:#1e86ff;transform-origin:0 50%;transform:scaleX(0.997);">KDJ</span>
<svg class="b" style="left:646px;top:908px" width="13" height="13" viewBox="0 0 13 13" fill="none"><path d="M6 2H2.500A1.500 1.500 0 0 0 1 3.500v7A1.500 1.500 0 0 0 2.500 12h7a1.500 1.500 0 0 0 1.500-1.500V7" stroke="#6e737d" stroke-width="1.100"/><path d="M5 8.500L11 2.500l1 1L6 9.500H5z" stroke="#6e737d" stroke-width="1"/></svg>
<span class="t" style="left:667px;top:907px;font-size:12px;line-height:16px;color:#80858f;font-weight:bold;transform-origin:0 50%;transform:scaleX(1.094);">社区指标</span>
<span class="t" style="left:1780px;top:907px;font-size:12px;line-height:16px;color:#80858f;transform-origin:0 50%;transform:scaleX(1.062);">对数</span>
<span class="t" style="left:1816px;top:907px;font-size:12px;line-height:16px;color:#80858f;">%</span>
<span class="t" style="left:1836px;top:907px;font-size:12px;line-height:16px;color:#1e86ff;font-weight:bold;transform-origin:0 50%;transform:scaleX(1.062);">自动</span>
<div class="b" style="left:152px;top:930px;width:32px;height:28px;background:#10203a;"></div>
<span class="t" style="left:75px;top:935.8px;font-size:13.6px;line-height:18px;color:#eceef1;width:33px;text-align:center;">15分</span>
<span class="t" style="left:115px;top:935.8px;font-size:13.6px;line-height:18px;color:#eceef1;width:34px;text-align:center;">45分</span>
<span class="t" style="left:155px;top:935.8px;font-size:13.6px;line-height:18px;color:#2080ff;width:26px;text-align:center;">4时</span>
<span class="t" style="left:187px;top:935.8px;font-size:13.6px;line-height:18px;color:#eceef1;width:26px;text-align:center;">8时</span>
<span class="t" style="left:220px;top:935.8px;font-size:13.6px;line-height:18px;color:#eceef1;width:26px;text-align:center;">1日</span>
<span class="t" style="left:252px;top:935.8px;font-size:13.6px;line-height:18px;color:#eceef1;width:26px;text-align:center;">1秒</span>
<span class="t" style="left:284px;top:935.8px;font-size:13.6px;line-height:18px;color:#eceef1;width:34px;text-align:center;">30秒</span>
<span class="t" style="left:324px;top:935.8px;font-size:13.6px;line-height:18px;color:#eceef1;width:32px;text-align:center;">分时</span>
<span class="t" style="left:363px;top:935.8px;font-size:13.6px;line-height:18px;color:#eceef1;width:26px;text-align:center;">1分</span>
<span class="t" style="left:394px;top:935.8px;font-size:13.6px;line-height:18px;color:#eceef1;width:26px;text-align:center;">5分</span>
<span class="t" style="left:427px;top:935.8px;font-size:13.6px;line-height:18px;color:#eceef1;width:34px;text-align:center;">10分</span>
<span class="t" style="left:467px;top:935.8px;font-size:13.6px;line-height:18px;color:#eceef1;width:34px;text-align:center;">30分</span>
<span class="t" style="left:507px;top:935.8px;font-size:13.6px;line-height:18px;color:#eceef1;width:26px;text-align:center;">1时</span>
<span class="t" style="left:539px;top:935.8px;font-size:13.6px;line-height:18px;color:#eceef1;width:26px;text-align:center;">2时</span>
<span class="t" style="left:571px;top:935.8px;font-size:13.6px;line-height:18px;color:#eceef1;width:26px;text-align:center;">3时</span>
<span class="t" style="left:604px;top:935.8px;font-size:13.6px;line-height:18px;color:#eceef1;width:34px;text-align:center;">12时</span>
<span class="t" style="left:643px;top:935.8px;font-size:13.6px;line-height:18px;color:#eceef1;width:26px;text-align:center;">2日</span>
<span class="t" style="left:676px;top:935.8px;font-size:13.6px;line-height:18px;color:#eceef1;width:26px;text-align:center;">3日</span>
<span class="t" style="left:708px;top:935.8px;font-size:13.6px;line-height:18px;color:#eceef1;width:28px;text-align:center;">周K</span>
<span class="t" style="left:742px;top:935.8px;font-size:13.6px;line-height:18px;color:#eceef1;width:34px;text-align:center;">15日</span>
<span class="t" style="left:782px;top:935.8px;font-size:13.6px;line-height:18px;color:#eceef1;width:28px;text-align:center;">月K</span>
<span class="t" style="left:815px;top:935.8px;font-size:13.6px;line-height:18px;color:#eceef1;width:29px;text-align:center;">季K</span>
<span class="t" style="left:849px;top:935.8px;font-size:13.6px;line-height:18px;color:#eceef1;width:29px;text-align:center;">年K</span>
<svg class="b" style="left:892px;top:940px" width="8" height="8" viewBox="0 0 8 8" fill="none"><path d="M1 1l6 6M7 1L1 7" stroke="#9aa0aa" stroke-width="1"/></svg>
<div class="b" style="left:70px;top:959px;width:1798px;height:4px;background:#000;"></div>
<div class="b" style="left:950px;top:956px;width:38px;height:6px;background:#3a3d45;border-radius:2px;"></div>
<svg class="b" style="left:964px;top:957px" width="10" height="4" viewBox="0 0 10 4" fill="none"><path d="M0 4l5-4 5 4z" fill="#9aa0aa"/></svg>
<div class="b" style="left:70px;top:963px;width:1798px;height:30px;background:#0c0d0f;"></div>
<div class="b" style="left:70px;top:963px;width:82px;height:30px;background:#18191d;"></div>
<div class="b" style="left:70px;top:962.7px;width:82px;height:1.6px;background:#1e86ff;"></div>
<span class="t" style="left:70px;top:970.5px;font-size:14px;line-height:18px;color:#1e86ff;width:82px;text-align:center;">委单区</span>
<span class="t" style="left:172px;top:970.5px;font-size:14px;line-height:18px;color:#e1e3e7;transform-origin:0 50%;transform:scaleX(1.020);">自定义指标/回测/实盘</span>
<span class="t" style="left:348px;top:970.5px;font-size:14px;line-height:18px;color:#e1e3e7;transform-origin:0 50%;transform:scaleX(1.008);">AI 网格</span>
<span class="t" style="left:433px;top:970.5px;font-size:14px;line-height:18px;color:#e1e3e7;transform-origin:0 50%;transform:scaleX(0.990);">合约DCA</span>
<span class="t" style="left:530px;top:970.5px;font-size:14px;line-height:18px;color:#e1e3e7;transform-origin:0 50%;transform:scaleX(0.982);">组合下单</span>
<span class="t" style="left:640px;top:970.5px;font-size:14px;line-height:18px;color:#e1e3e7;transform-origin:0 50%;transform:scaleX(1.006);">AI分析</span>
<svg class="b" style="left:1821px;top:975px" width="13" height="8" viewBox="0 0 13 8" fill="none"><path d="M1 7l5.500-5.500L12 7" stroke="#9aa0aa" stroke-width="1.200"/></svg>
<svg class="b" style="left:1845px;top:971px" width="15" height="15" viewBox="0 0 15 15" fill="none"><rect x="0.600" y="0.600" width="13.800" height="13.800" rx="1.500" stroke="#9aa0aa" stroke-width="1.100"/><path d="M3.500 6.500v-3h3M11.500 8.500v3h-3" stroke="#9aa0aa" stroke-width="1.100"/></svg>
<div class="b" style="left:66px;top:993.5px;width:1850px;height:37.5px;background:#0d0e10;"></div>
<span class="t" style="left:78px;top:1003.5px;font-size:13px;line-height:17px;color:#e1e3e7;transform-origin:0 50%;transform:scaleX(0.974);">资产(₮)</span>
<span class="t" style="left:152px;top:1003.5px;font-size:13px;line-height:17px;color:#1e86ff;transform-origin:0 50%;transform:scaleX(1.006);">实时资产风控</span>
<span class="t" style="left:321px;top:1003.5px;font-size:13px;line-height:17px;color:#e1e3e7;transform-origin:0 50%;transform:scaleX(1.010);">恐惧&amp;贪婪指数</span>
<span class="t" style="left:418px;top:1003.5px;font-size:13px;line-height:17px;color:#e1e3e7;transform-origin:0 50%;transform:scaleX(0.963);">0.00%</span>
<span class="t" style="left:463px;top:1003.5px;font-size:13px;line-height:17px;color:#e1e3e7;transform-origin:0 50%;transform:scaleX(1.071);">23</span>
<span class="t" style="left:512px;top:1003.5px;font-size:13px;line-height:17px;color:#e1e3e7;transform-origin:0 50%;transform:scaleX(0.991);">OKX-BTC多空持仓人数比</span>
<span class="t" style="left:669px;top:1003.5px;font-size:13px;line-height:17px;color:#e5383b;transform-origin:0 50%;transform:scaleX(1.010);">主力看多</span>
<span class="t" style="left:731px;top:1003.5px;font-size:13px;line-height:17px;color:#e1e3e7;transform-origin:0 50%;transform:scaleX(1.007);">0.91</span>
<span class="t" style="left:790px;top:1003.5px;font-size:13px;line-height:17px;color:#e1e3e7;transform-origin:0 50%;transform:scaleX(1.013);">伦敦金</span>
<span class="t" style="left:839px;top:1003.5px;font-size:13px;line-height:17px;color:#2ea87e;transform-origin:0 50%;transform:scaleX(1.031);">-0.69%</span>
<span class="t" style="left:891px;top:1003.5px;font-size:13px;line-height:17px;color:#e1e3e7;transform-origin:0 50%;transform:scaleX(1.008);">4,789.39</span>
<span class="t" style="left:975px;top:1003.5px;font-size:13px;line-height:17px;color:#e1e3e7;transform-origin:0 50%;transform:scaleX(1.005);">USDT 场外-OKX</span>
<span class="t" style="left:1082px;top:1003.5px;font-size:13px;line-height:17px;color:#e1e3e7;transform-origin:0 50%;transform:scaleX(1.003);">溢价 -0.00%</span>
<span class="t" style="left:1162px;top:1003.5px;font-size:13px;line-height:17px;color:#e1e3e7;transform-origin:0 50%;transform:scaleX(1.007);">6.82</span>
<span class="t" style="left:1222px;top:1003.5px;font-size:13px;line-height:17px;color:#e1e3e7;transform-origin:0 50%;transform:scaleX(0.995);">纳斯达克指数期货CFD</span>
<span class="t" style="left:1361px;top:1003.5px;font-size:13px;line-height:17px;color:#e5383b;transform-origin:0 50%;transform:scaleX(0.967);">+0.42%</span>
<span class="t" style="left:1414px;top:1003.5px;font-size:13px;line-height:17px;color:#e1e3e7;transform-origin:0 50%;transform:scaleX(1.006);">26,519.722</span>
<span class="t" style="left:1696px;top:1003.5px;font-size:13px;line-height:17px;color:#e1e3e7;transform-origin:0 50%;transform:scaleX(0.998);">线路 3 :</span>
<span class="t" style="left:1744px;top:1003.5px;font-size:13px;line-height:17px;color:#2ea87e;transform-origin:0 50%;transform:scaleX(0.923);">优</span>
<span class="t" style="left:1783px;top:1003.5px;font-size:13px;line-height:17px;color:#e1e3e7;transform-origin:0 50%;transform:scaleX(0.879);">SGT</span>
<span class="t" style="left:1812px;top:1003.5px;font-size:13px;line-height:17px;color:#e1e3e7;transform-origin:0 50%;transform:scaleX(1.043);">04/17 00:50:36</span>
<svg class="b" style="left:285px;top:1005px" width="14" height="14" viewBox="0 0 14 14" fill="none"><path d="M1.500 10.500L9 3l2 2-7.500 7.500H1.500z" fill="#9aa0aa"/><path d="M8 13h5" stroke="#9aa0aa" stroke-width="1.500"/></svg>
<svg class="b" style="left:1642px;top:1004px" width="15" height="16" viewBox="0 0 15 16" fill="none"><path d="M1 1h13v11H1z" fill="#80858f"/><path d="M1 14.500h13" stroke="#80858f" stroke-width="1.500"/><text x="7.500" y="10" font-size="9" font-weight="bold" fill="#0d0e10" text-anchor="middle" font-family="Liberation Sans,sans-serif">?</text></svg>
<svg class="b" style="left:1670px;top:1004px" width="17" height="14" viewBox="0 0 17 14" fill="none"><path d="M1 5c4.500-4.500 10.500-4.500 15 0M3.500 8c3-3 7-3 10 0M6 10.800c1.500-1.500 3.500-1.500 5 0" stroke="#c9ccd2" stroke-width="1.300"/><circle cx="8.500" cy="12.800" r="1" fill="#c9ccd2"/></svg>
</body></html>
